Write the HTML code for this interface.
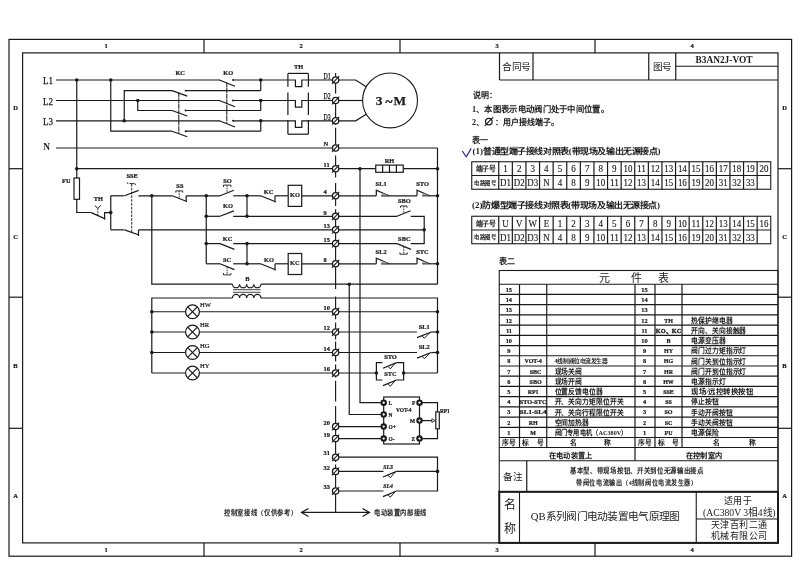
<!DOCTYPE html>
<html lang="zh-CN"><head><meta charset="utf-8"><title>B3AN2J-VOT</title>
<style>
html,body{margin:0;padding:0;background:#fff;}
body{width:800px;height:566px;overflow:hidden;font-family:"Liberation Serif",serif;}
svg{display:block;font-family:"Liberation Serif",serif;}
svg text{fill:#1a1a1a;}
</style></head><body>
<svg width="800" height="566" viewBox="0 0 800 566" style="will-change:transform">
<rect x="0" y="0" width="800" height="566" fill="#fff"/>
<rect x="9" y="39.4" width="782.6" height="516.8000000000001" fill="none" stroke="#1a1a1a" stroke-width="1.2"/>
<rect x="22.6" y="52.9" width="755.4" height="490.0" fill="none" stroke="#1a1a1a" stroke-width="1.2"/>
<line x1="204" y1="39.4" x2="204" y2="52.9" stroke="#1a1a1a" stroke-width="1.2"/>
<line x1="204" y1="542.9" x2="204" y2="556.2" stroke="#1a1a1a" stroke-width="1.2"/>
<line x1="400" y1="39.4" x2="400" y2="52.9" stroke="#1a1a1a" stroke-width="1.2"/>
<line x1="400" y1="542.9" x2="400" y2="556.2" stroke="#1a1a1a" stroke-width="1.2"/>
<line x1="595" y1="39.4" x2="595" y2="52.9" stroke="#1a1a1a" stroke-width="1.2"/>
<line x1="595" y1="542.9" x2="595" y2="556.2" stroke="#1a1a1a" stroke-width="1.2"/>
<line x1="9" y1="168.7" x2="22.6" y2="168.7" stroke="#1a1a1a" stroke-width="1.2"/>
<line x1="778" y1="168.7" x2="791.6" y2="168.7" stroke="#1a1a1a" stroke-width="1.2"/>
<line x1="9" y1="297.2" x2="22.6" y2="297.2" stroke="#1a1a1a" stroke-width="1.2"/>
<line x1="778" y1="297.2" x2="791.6" y2="297.2" stroke="#1a1a1a" stroke-width="1.2"/>
<line x1="9" y1="428.3" x2="22.6" y2="428.3" stroke="#1a1a1a" stroke-width="1.2"/>
<line x1="778" y1="428.3" x2="791.6" y2="428.3" stroke="#1a1a1a" stroke-width="1.2"/>
<text x="106" y="48.3" font-size="6.5" font-weight="bold" text-anchor="middle" stroke="#1a1a1a" stroke-width="0.22">1</text>
<text x="106" y="551.8" font-size="6.5" font-weight="bold" text-anchor="middle" stroke="#1a1a1a" stroke-width="0.22">1</text>
<text x="301" y="48.3" font-size="6.5" font-weight="bold" text-anchor="middle" stroke="#1a1a1a" stroke-width="0.22">2</text>
<text x="301" y="551.8" font-size="6.5" font-weight="bold" text-anchor="middle" stroke="#1a1a1a" stroke-width="0.22">2</text>
<text x="497" y="48.3" font-size="6.5" font-weight="bold" text-anchor="middle" stroke="#1a1a1a" stroke-width="0.22">3</text>
<text x="497" y="551.8" font-size="6.5" font-weight="bold" text-anchor="middle" stroke="#1a1a1a" stroke-width="0.22">3</text>
<text x="692" y="48.3" font-size="6.5" font-weight="bold" text-anchor="middle" stroke="#1a1a1a" stroke-width="0.22">4</text>
<text x="692" y="551.8" font-size="6.5" font-weight="bold" text-anchor="middle" stroke="#1a1a1a" stroke-width="0.22">4</text>
<text x="15.5" y="109.7" font-size="6.5" font-weight="bold" text-anchor="middle" stroke="#1a1a1a" stroke-width="0.22">D</text>
<text x="784.5" y="109.7" font-size="6.5" font-weight="bold" text-anchor="middle" stroke="#1a1a1a" stroke-width="0.22">D</text>
<text x="15.5" y="239" font-size="6.5" font-weight="bold" text-anchor="middle" stroke="#1a1a1a" stroke-width="0.22">C</text>
<text x="784.5" y="239" font-size="6.5" font-weight="bold" text-anchor="middle" stroke="#1a1a1a" stroke-width="0.22">C</text>
<text x="15.5" y="368.3" font-size="6.5" font-weight="bold" text-anchor="middle" stroke="#1a1a1a" stroke-width="0.22">B</text>
<text x="784.5" y="368.3" font-size="6.5" font-weight="bold" text-anchor="middle" stroke="#1a1a1a" stroke-width="0.22">B</text>
<text x="15.5" y="498" font-size="6.5" font-weight="bold" text-anchor="middle" stroke="#1a1a1a" stroke-width="0.22">A</text>
<text x="784.5" y="498" font-size="6.5" font-weight="bold" text-anchor="middle" stroke="#1a1a1a" stroke-width="0.22">A</text>
<line x1="335.6" y1="73" x2="335.6" y2="93.6" stroke="#1a1a1a" stroke-width="1.15"/>
<line x1="335.6" y1="97.2" x2="335.6" y2="124.7" stroke="#1a1a1a" stroke-width="1.15"/>
<line x1="335.6" y1="127.8" x2="335.6" y2="151.2" stroke="#1a1a1a" stroke-width="1.15"/>
<line x1="335.6" y1="155.4" x2="335.6" y2="177.4" stroke="#1a1a1a" stroke-width="1.15"/>
<line x1="335.6" y1="183.1" x2="335.6" y2="206" stroke="#1a1a1a" stroke-width="1.15"/>
<line x1="335.6" y1="209.2" x2="335.6" y2="288.9" stroke="#1a1a1a" stroke-width="1.15"/>
<line x1="335.6" y1="296.5" x2="335.6" y2="319.2" stroke="#1a1a1a" stroke-width="1.15"/>
<line x1="335.6" y1="322.4" x2="335.6" y2="339.4" stroke="#1a1a1a" stroke-width="1.15"/>
<line x1="335.6" y1="341.5" x2="335.6" y2="361.6" stroke="#1a1a1a" stroke-width="1.15"/>
<line x1="335.6" y1="364.5" x2="335.6" y2="377.5" stroke="#1a1a1a" stroke-width="1.15"/>
<line x1="335.6" y1="380.7" x2="335.6" y2="401.4" stroke="#1a1a1a" stroke-width="1.15"/>
<line x1="335.6" y1="406" x2="335.6" y2="462" stroke="#1a1a1a" stroke-width="1.15"/>
<line x1="335.6" y1="464.5" x2="335.6" y2="512.4" stroke="#1a1a1a" stroke-width="1.15"/>
<text x="43" y="84.2" font-size="10.4" font-weight="normal" text-anchor="start" textLength="10" lengthAdjust="spacingAndGlyphs" stroke="#1a1a1a" stroke-width="0.25">L1</text>
<text x="43" y="104.7" font-size="10.4" font-weight="normal" text-anchor="start" textLength="10" lengthAdjust="spacingAndGlyphs" stroke="#1a1a1a" stroke-width="0.25">L2</text>
<text x="43" y="125.0" font-size="10.4" font-weight="normal" text-anchor="start" textLength="10" lengthAdjust="spacingAndGlyphs" stroke="#1a1a1a" stroke-width="0.25">L3</text>
<text x="43.2" y="150.0" font-size="9.4" font-weight="bold" text-anchor="start">N</text>
<line x1="56" y1="80" x2="220" y2="80" stroke="#1a1a1a" stroke-width="1.2"/>
<line x1="219.4" y1="80" x2="235" y2="86.2" stroke="#1a1a1a" stroke-width="1.2"/>
<circle cx="233" cy="80" r="0.95" fill="#1a1a1a"/>
<line x1="233" y1="80" x2="287.9" y2="80" stroke="#1a1a1a" stroke-width="1.2"/>
<circle cx="260.75" cy="80" r="1.8" fill="#1a1a1a"/>
<line x1="56" y1="100.5" x2="220" y2="100.5" stroke="#1a1a1a" stroke-width="1.2"/>
<line x1="219.4" y1="100.5" x2="235" y2="106.7" stroke="#1a1a1a" stroke-width="1.2"/>
<circle cx="233" cy="100.5" r="0.95" fill="#1a1a1a"/>
<line x1="233" y1="100.5" x2="287.9" y2="100.5" stroke="#1a1a1a" stroke-width="1.2"/>
<circle cx="260.75" cy="100.5" r="1.8" fill="#1a1a1a"/>
<line x1="56" y1="120.8" x2="220" y2="120.8" stroke="#1a1a1a" stroke-width="1.2"/>
<line x1="219.4" y1="120.8" x2="235" y2="127.0" stroke="#1a1a1a" stroke-width="1.2"/>
<circle cx="233" cy="120.8" r="0.95" fill="#1a1a1a"/>
<line x1="233" y1="120.8" x2="287.9" y2="120.8" stroke="#1a1a1a" stroke-width="1.2"/>
<circle cx="260.75" cy="120.8" r="1.8" fill="#1a1a1a"/>
<line x1="226.8" y1="82.5" x2="226.8" y2="123" stroke="#1a1a1a" stroke-width="1.05" stroke-dasharray="5 0.6"/>
<line x1="56" y1="148" x2="437.5" y2="148" stroke="#1a1a1a" stroke-width="1.2"/>
<line x1="76.75" y1="168.7" x2="375.75" y2="168.7" stroke="#1a1a1a" stroke-width="1.2"/>
<line x1="403.25" y1="168.7" x2="437.5" y2="168.7" stroke="#1a1a1a" stroke-width="1.2"/>
<line x1="76.75" y1="80" x2="76.75" y2="168.7" stroke="#1a1a1a" stroke-width="1.2"/>
<circle cx="76.75" cy="80" r="1.8" fill="#1a1a1a"/>
<circle cx="76.75" cy="168.7" r="1.8" fill="#1a1a1a"/>
<circle cx="110.75" cy="80" r="1.8" fill="#1a1a1a"/>
<circle cx="124.25" cy="120.8" r="1.8" fill="#1a1a1a"/>
<circle cx="137.75" cy="100.5" r="1.8" fill="#1a1a1a"/>
<polyline points="110.75,80 110.75,131.2 172,131.2" fill="none" stroke="#1a1a1a" stroke-width="1.2" stroke-linejoin="miter"/>
<line x1="172" y1="131.2" x2="187.3" y2="136.7" stroke="#1a1a1a" stroke-width="1.2"/>
<circle cx="185.6" cy="131.2" r="0.95" fill="#1a1a1a"/>
<line x1="185.6" y1="131.2" x2="260.75" y2="131.2" stroke="#1a1a1a" stroke-width="1.2"/>
<polyline points="124.25,120.8 124.25,90.6 172,90.6" fill="none" stroke="#1a1a1a" stroke-width="1.2" stroke-linejoin="miter"/>
<line x1="172" y1="90.6" x2="187.3" y2="96.1" stroke="#1a1a1a" stroke-width="1.2"/>
<circle cx="185.6" cy="90.6" r="0.95" fill="#1a1a1a"/>
<line x1="185.6" y1="90.6" x2="260.75" y2="90.6" stroke="#1a1a1a" stroke-width="1.2"/>
<polyline points="137.75,100.5 137.75,110.5 172,110.5" fill="none" stroke="#1a1a1a" stroke-width="1.2" stroke-linejoin="miter"/>
<line x1="172" y1="110.5" x2="187.3" y2="116.0" stroke="#1a1a1a" stroke-width="1.2"/>
<circle cx="185.6" cy="110.5" r="0.95" fill="#1a1a1a"/>
<line x1="185.6" y1="110.5" x2="260.75" y2="110.5" stroke="#1a1a1a" stroke-width="1.2"/>
<line x1="260.75" y1="90.6" x2="260.75" y2="80" stroke="#1a1a1a" stroke-width="1.2"/>
<line x1="260.75" y1="110.5" x2="260.75" y2="100.5" stroke="#1a1a1a" stroke-width="1.2"/>
<line x1="260.75" y1="131.2" x2="260.75" y2="120.8" stroke="#1a1a1a" stroke-width="1.2"/>
<line x1="178.8" y1="92.6" x2="178.8" y2="133" stroke="#1a1a1a" stroke-width="1.05" stroke-dasharray="5 0.6"/>
<text x="180.2" y="75.2" font-size="6.4" font-weight="bold" text-anchor="middle" stroke="#1a1a1a" stroke-width="0.22">KC</text>
<text x="228.2" y="75.2" font-size="6.4" font-weight="bold" text-anchor="middle" stroke="#1a1a1a" stroke-width="0.22">KO</text>
<text x="298.5" y="69" font-size="6.4" font-weight="bold" text-anchor="middle" stroke="#1a1a1a" stroke-width="0.22">TH</text>
<line x1="287.9" y1="73.4" x2="308.4" y2="73.4" stroke="#1a1a1a" stroke-width="1.2"/>
<line x1="287.9" y1="134.2" x2="308.4" y2="134.2" stroke="#1a1a1a" stroke-width="1.2"/>
<line x1="287.9" y1="73.4" x2="287.9" y2="86.8" stroke="#1a1a1a" stroke-width="1.2"/>
<line x1="287.9" y1="92.5" x2="287.9" y2="115" stroke="#1a1a1a" stroke-width="1.2"/>
<line x1="287.9" y1="120" x2="287.9" y2="134.2" stroke="#1a1a1a" stroke-width="1.2"/>
<line x1="308.4" y1="73.4" x2="308.4" y2="86.8" stroke="#1a1a1a" stroke-width="1.2"/>
<line x1="308.4" y1="92.5" x2="308.4" y2="115" stroke="#1a1a1a" stroke-width="1.2"/>
<line x1="308.4" y1="120" x2="308.4" y2="134.2" stroke="#1a1a1a" stroke-width="1.2"/>
<polyline points="287.9,80 295.4,80 295.4,86.6 301.8,86.6 301.8,80 335.6,80" fill="none" stroke="#1a1a1a" stroke-width="1.2" stroke-linejoin="miter"/>
<polyline points="287.9,100.5 295.4,100.5 295.4,107.1 301.8,107.1 301.8,100.5 335.6,100.5" fill="none" stroke="#1a1a1a" stroke-width="1.2" stroke-linejoin="miter"/>
<polyline points="287.9,120.8 295.4,120.8 295.4,127.39999999999999 301.8,127.39999999999999 301.8,120.8 335.6,120.8" fill="none" stroke="#1a1a1a" stroke-width="1.2" stroke-linejoin="miter"/>
<polyline points="335.6,80 355.7,80 367,87.2" fill="none" stroke="#1a1a1a" stroke-width="1.2" stroke-linejoin="miter"/>
<line x1="335.6" y1="100.5" x2="362.6" y2="100.5" stroke="#1a1a1a" stroke-width="1.2"/>
<polyline points="335.6,120.8 355.7,120.8 367,113.8" fill="none" stroke="#1a1a1a" stroke-width="1.2" stroke-linejoin="miter"/>
<circle cx="390.05" cy="100.4" r="27.45" fill="#fff" stroke="#1a1a1a" stroke-width="1.1"/>
<text y="104.9" font-size="13.3" font-weight="bold" stroke="#1a1a1a" stroke-width="0.25"><tspan x="375.7">3</tspan><tspan x="385.4" dy="1.3" stroke="#1a1a1a" stroke-width="0.3">~</tspan><tspan x="393.4" dy="-1.3">M</tspan></text>
<rect x="375.75" y="165.1" width="27.5" height="7.2" fill="#fff" stroke="#1a1a1a" stroke-width="1.2"/>
<line x1="382.625" y1="165.1" x2="382.625" y2="172.3" stroke="#1a1a1a" stroke-width="1.2"/>
<line x1="389.5" y1="165.1" x2="389.5" y2="172.3" stroke="#1a1a1a" stroke-width="1.2"/>
<line x1="396.375" y1="165.1" x2="396.375" y2="172.3" stroke="#1a1a1a" stroke-width="1.2"/>
<text x="389.5" y="162.6" font-size="6.4" font-weight="bold" text-anchor="middle" stroke="#1a1a1a" stroke-width="0.22">RH</text>
<line x1="437.5" y1="148" x2="437.5" y2="284.2" stroke="#1a1a1a" stroke-width="1.2"/>
<circle cx="437.5" cy="168.7" r="1.8" fill="#1a1a1a"/>
<circle cx="437.5" cy="195.8" r="1.8" fill="#1a1a1a"/>
<circle cx="437.5" cy="263.8" r="1.8" fill="#1a1a1a"/>
<circle cx="360" cy="168.7" r="1.8" fill="#1a1a1a"/>
<polyline points="360,168.7 360,402.7 383.75,402.7" fill="none" stroke="#1a1a1a" stroke-width="1.2" stroke-linejoin="miter"/>
<line x1="76.75" y1="168.7" x2="76.75" y2="178" stroke="#1a1a1a" stroke-width="1.2"/>
<rect x="74" y="178" width="5.5" height="21.3" fill="#fff" stroke="#1a1a1a" stroke-width="1.2"/>
<polyline points="76.75,199.3 76.75,212.5 90.5,212.5" fill="none" stroke="#1a1a1a" stroke-width="1.2" stroke-linejoin="miter"/>
<text x="62" y="183" font-size="6.4" font-weight="bold" text-anchor="start" stroke="#1a1a1a" stroke-width="0.22">FU</text>
<line x1="91.2" y1="212.6" x2="105.2" y2="218.9" stroke="#1a1a1a" stroke-width="1.2"/>
<polyline points="104.6,219.6 104.6,212.6 110.75,212.6" fill="none" stroke="#1a1a1a" stroke-width="1.2" stroke-linejoin="miter"/>
<line x1="90.5" y1="212.5" x2="91.4" y2="212.5" stroke="#1a1a1a" stroke-width="1.2"/>
<circle cx="110.75" cy="212.6" r="1.8" fill="#1a1a1a"/>
<text x="98.3" y="201.3" font-size="6.4" font-weight="bold" text-anchor="middle" stroke="#1a1a1a" stroke-width="0.22">TH</text>
<polyline points="94.9,205.3 97.8,208.5 100.7,205.3" fill="none" stroke="#1a1a1a" stroke-width="1.0" stroke-linejoin="miter"/>
<line x1="97.8" y1="208.5" x2="97.8" y2="215" stroke="#1a1a1a" stroke-width="0.9" stroke-dasharray="1.6 0.9"/>
<line x1="110.75" y1="195.8" x2="110.75" y2="229.85" stroke="#1a1a1a" stroke-width="1.2"/>
<line x1="110.75" y1="195.8" x2="124.25" y2="195.8" stroke="#1a1a1a" stroke-width="1.2"/>
<line x1="124.6" y1="195.8" x2="138.6" y2="190.4" stroke="#1a1a1a" stroke-width="1.2"/>
<line x1="138.4" y1="195.8" x2="172.3" y2="195.8" stroke="#1a1a1a" stroke-width="1.2"/>
<line x1="110.75" y1="229.85" x2="124.25" y2="229.85" stroke="#1a1a1a" stroke-width="1.2"/>
<line x1="124.6" y1="229.85" x2="138.9" y2="235" stroke="#1a1a1a" stroke-width="1.2"/>
<line x1="138.5" y1="229.85" x2="138.5" y2="236" stroke="#1a1a1a" stroke-width="1.2"/>
<line x1="138.5" y1="229.85" x2="335.6" y2="229.85" stroke="#1a1a1a" stroke-width="1.2"/>
<line x1="131.7" y1="184" x2="131.7" y2="233" stroke="#1a1a1a" stroke-width="0.95" stroke-dasharray="2.6 1.2"/>
<text x="132.2" y="177.8" font-size="6.4" font-weight="bold" text-anchor="middle" stroke="#1a1a1a" stroke-width="0.22">SSE</text>
<path d="M127.7,182.3 v1.6 M129.3,183.6 h5.2 M135.3,183.6 v1.6" fill="none" stroke="#1a1a1a" stroke-width="0.9"/>
<circle cx="151.8" cy="195.8" r="1.8" fill="#1a1a1a"/>
<polyline points="151.8,195.8 151.8,284.2 232.5,284.2" fill="none" stroke="#1a1a1a" stroke-width="1.2" stroke-linejoin="miter"/>
<line x1="172.3" y1="195.8" x2="186.8" y2="201.5" stroke="#1a1a1a" stroke-width="1.2"/>
<line x1="186.2" y1="195.8" x2="186.2" y2="201.8" stroke="#1a1a1a" stroke-width="1.2"/>
<line x1="186.2" y1="195.8" x2="220" y2="195.8" stroke="#1a1a1a" stroke-width="1.2"/>
<text x="179.9" y="187.6" font-size="6.4" font-weight="bold" text-anchor="middle" stroke="#1a1a1a" stroke-width="0.22">SS</text>
<path d="M175.8,192.7 v-1.8 h6.9 v1.8" fill="none" stroke="#1a1a1a" stroke-width="0.9"/>
<line x1="179.2" y1="190.9" x2="179.2" y2="198.4" stroke="#1a1a1a" stroke-width="0.9" stroke-dasharray="1.6 0.9"/>
<circle cx="206.25" cy="195.8" r="1.8" fill="#1a1a1a"/>
<circle cx="206.25" cy="216.3" r="1.8" fill="#1a1a1a"/>
<circle cx="206.25" cy="243.6" r="1.8" fill="#1a1a1a"/>
<line x1="206.25" y1="195.8" x2="206.25" y2="263.8" stroke="#1a1a1a" stroke-width="1.2"/>
<line x1="220" y1="195.8" x2="233.9" y2="190.3" stroke="#1a1a1a" stroke-width="1.2"/>
<line x1="233.2" y1="195.8" x2="247" y2="195.8" stroke="#1a1a1a" stroke-width="1.2"/>
<text x="227.5" y="183.2" font-size="6.4" font-weight="bold" text-anchor="middle" stroke="#1a1a1a" stroke-width="0.22">SO</text>
<path d="M223.5,187 v-1.9 h7.4 v1.9" fill="none" stroke="#1a1a1a" stroke-width="0.9"/>
<line x1="227.1" y1="185.2" x2="227.1" y2="192.6" stroke="#1a1a1a" stroke-width="0.9" stroke-dasharray="1.6 0.9"/>
<line x1="206.25" y1="216.3" x2="220" y2="216.3" stroke="#1a1a1a" stroke-width="1.2"/>
<line x1="220" y1="216.3" x2="233.9" y2="210.9" stroke="#1a1a1a" stroke-width="1.2"/>
<line x1="233.2" y1="216.3" x2="335.6" y2="216.3" stroke="#1a1a1a" stroke-width="1.2"/>
<text x="227.9" y="207.6" font-size="6.4" font-weight="bold" text-anchor="middle" stroke="#1a1a1a" stroke-width="0.22">KO</text>
<line x1="247" y1="195.8" x2="247" y2="216.3" stroke="#1a1a1a" stroke-width="1.2"/>
<circle cx="247" cy="195.8" r="1.8" fill="#1a1a1a"/>
<circle cx="247" cy="216.3" r="1.8" fill="#1a1a1a"/>
<line x1="247" y1="195.8" x2="260.75" y2="195.8" stroke="#1a1a1a" stroke-width="1.2"/>
<line x1="260.5" y1="195.8" x2="275.5" y2="201.8" stroke="#1a1a1a" stroke-width="1.2"/>
<line x1="275" y1="195.8" x2="275" y2="202.6" stroke="#1a1a1a" stroke-width="1.2"/>
<line x1="275" y1="195.8" x2="288.2" y2="195.8" stroke="#1a1a1a" stroke-width="1.2"/>
<text x="268.5" y="194.3" font-size="6.4" font-weight="bold" text-anchor="middle" stroke="#1a1a1a" stroke-width="0.22">KC</text>
<rect x="288.2" y="185.3" width="13.5" height="21.1" fill="#fff" stroke="#1a1a1a" stroke-width="1.2"/>
<text x="294.9" y="197.4" font-size="6.4" font-weight="bold" text-anchor="middle" stroke="#1a1a1a" stroke-width="0.22">KO</text>
<line x1="301.7" y1="195.8" x2="335.6" y2="195.8" stroke="#1a1a1a" stroke-width="1.2"/>
<line x1="206.25" y1="243.6" x2="220" y2="243.6" stroke="#1a1a1a" stroke-width="1.2"/>
<line x1="220" y1="243.6" x2="234.4" y2="249.4" stroke="#1a1a1a" stroke-width="1.2"/>
<line x1="233.2" y1="243.6" x2="335.6" y2="243.6" stroke="#1a1a1a" stroke-width="1.2"/>
<text x="227.5" y="241" font-size="6.4" font-weight="bold" text-anchor="middle" stroke="#1a1a1a" stroke-width="0.22">KC</text>
<line x1="206.25" y1="263.8" x2="220" y2="263.8" stroke="#1a1a1a" stroke-width="1.2"/>
<line x1="220" y1="263.8" x2="234.4" y2="269.6" stroke="#1a1a1a" stroke-width="1.2"/>
<line x1="233.2" y1="263.8" x2="260.75" y2="263.8" stroke="#1a1a1a" stroke-width="1.2"/>
<text x="227" y="261.8" font-size="6.4" font-weight="bold" text-anchor="middle" stroke="#1a1a1a" stroke-width="0.22">SC</text>
<path d="M223.5,273 v1.9 h7.4 v-1.9" fill="none" stroke="#1a1a1a" stroke-width="0.9"/>
<line x1="227.1" y1="267.2" x2="227.1" y2="274.8" stroke="#1a1a1a" stroke-width="0.9" stroke-dasharray="1.6 0.9"/>
<line x1="247" y1="243.6" x2="247" y2="263.8" stroke="#1a1a1a" stroke-width="1.2"/>
<circle cx="247" cy="243.6" r="1.8" fill="#1a1a1a"/>
<circle cx="247" cy="263.8" r="1.8" fill="#1a1a1a"/>
<line x1="260.5" y1="263.8" x2="275.5" y2="269.8" stroke="#1a1a1a" stroke-width="1.2"/>
<line x1="275" y1="263.8" x2="275" y2="270.6" stroke="#1a1a1a" stroke-width="1.2"/>
<line x1="275" y1="263.8" x2="288.2" y2="263.8" stroke="#1a1a1a" stroke-width="1.2"/>
<text x="269" y="262.3" font-size="6.4" font-weight="bold" text-anchor="middle" stroke="#1a1a1a" stroke-width="0.22">KO</text>
<rect x="288.2" y="253.5" width="13.5" height="21" fill="#fff" stroke="#1a1a1a" stroke-width="1.2"/>
<text x="294.9" y="265" font-size="6.4" font-weight="bold" text-anchor="middle" stroke="#1a1a1a" stroke-width="0.22">KC</text>
<line x1="301.7" y1="263.8" x2="335.6" y2="263.8" stroke="#1a1a1a" stroke-width="1.2"/>
<line x1="335.6" y1="195.8" x2="376.3" y2="195.8" stroke="#1a1a1a" stroke-width="1.2"/>
<line x1="381.1" y1="195.8" x2="417" y2="195.8" stroke="#1a1a1a" stroke-width="1.2"/>
<line x1="422.2" y1="195.8" x2="437.5" y2="195.8" stroke="#1a1a1a" stroke-width="1.2"/>
<polyline points="376.3,195.8 376.3,190.20000000000002 389.0,195.8" fill="none" stroke="#1a1a1a" stroke-width="1.2" stroke-linejoin="miter"/>
<polygon points="381.5,195.20000000000002 383.1,193.3 387.5,195.20000000000002" fill="#aaa" stroke="#777" stroke-width="0.5" stroke-linejoin="miter"/>
<polyline points="417,195.8 417,190.20000000000002 429.7,195.8" fill="none" stroke="#1a1a1a" stroke-width="1.2" stroke-linejoin="miter"/>
<polygon points="422.2,195.20000000000002 423.8,193.3 428.2,195.20000000000002" fill="#aaa" stroke="#777" stroke-width="0.5" stroke-linejoin="miter"/>
<text x="375.6" y="185.8" font-size="6.4" font-weight="bold" text-anchor="start" stroke="#1a1a1a" stroke-width="0.22">SL1</text>
<text x="416.2" y="185.8" font-size="6.4" font-weight="bold" text-anchor="start" stroke="#1a1a1a" stroke-width="0.22">STO</text>
<line x1="335.6" y1="263.8" x2="376.3" y2="263.8" stroke="#1a1a1a" stroke-width="1.2"/>
<line x1="381.1" y1="263.8" x2="417" y2="263.8" stroke="#1a1a1a" stroke-width="1.2"/>
<line x1="422.2" y1="263.8" x2="437.5" y2="263.8" stroke="#1a1a1a" stroke-width="1.2"/>
<polyline points="376.3,263.8 376.3,258.2 389.0,263.8" fill="none" stroke="#1a1a1a" stroke-width="1.2" stroke-linejoin="miter"/>
<polygon points="381.5,263.2 383.1,261.3 387.5,263.2" fill="#aaa" stroke="#777" stroke-width="0.5" stroke-linejoin="miter"/>
<polyline points="417,263.8 417,258.2 429.7,263.8" fill="none" stroke="#1a1a1a" stroke-width="1.2" stroke-linejoin="miter"/>
<polygon points="422.2,263.2 423.8,261.3 428.2,263.2" fill="#aaa" stroke="#777" stroke-width="0.5" stroke-linejoin="miter"/>
<text x="375.6" y="253.8" font-size="6.4" font-weight="bold" text-anchor="start" stroke="#1a1a1a" stroke-width="0.22">SL2</text>
<text x="416.2" y="253.8" font-size="6.4" font-weight="bold" text-anchor="start" stroke="#1a1a1a" stroke-width="0.22">STC</text>
<line x1="335.6" y1="216.3" x2="397" y2="216.3" stroke="#1a1a1a" stroke-width="1.2"/>
<line x1="397" y1="216.3" x2="410.6" y2="210.7" stroke="#1a1a1a" stroke-width="1.2"/>
<polyline points="410.8,216.3 424.2,216.3 424.2,243.6 410.8,243.6" fill="none" stroke="#1a1a1a" stroke-width="1.2" stroke-linejoin="miter"/>
<circle cx="424.2" cy="229.85" r="1.8" fill="#1a1a1a"/>
<line x1="335.6" y1="229.85" x2="424.2" y2="229.85" stroke="#1a1a1a" stroke-width="1.2"/>
<text x="404.3" y="202.8" font-size="6.4" font-weight="bold" text-anchor="middle" stroke="#1a1a1a" stroke-width="0.22">SBO</text>
<path d="M400.5,207.7 v-1.7 h6.5 v1.7" fill="none" stroke="#1a1a1a" stroke-width="0.9"/>
<line x1="403.8" y1="206" x2="403.8" y2="213.2" stroke="#1a1a1a" stroke-width="0.9" stroke-dasharray="1.6 0.9"/>
<line x1="335.6" y1="243.6" x2="397" y2="243.6" stroke="#1a1a1a" stroke-width="1.2"/>
<line x1="397" y1="243.6" x2="411" y2="249.4" stroke="#1a1a1a" stroke-width="1.2"/>
<text x="404.3" y="240.7" font-size="6.4" font-weight="bold" text-anchor="middle" stroke="#1a1a1a" stroke-width="0.22">SBC</text>
<path d="M399.9,252.4 v1.8 h7.3 v-1.8" fill="none" stroke="#1a1a1a" stroke-width="0.9"/>
<line x1="403.8" y1="246.8" x2="403.8" y2="254" stroke="#1a1a1a" stroke-width="0.9" stroke-dasharray="1.6 0.9"/>
<path d="M232.5,284.2 a3.55,3.55 0 0 0 7.1,0 a3.55,3.55 0 0 0 7.1,0 a3.55,3.55 0 0 0 7.1,0 a3.55,3.55 0 0 0 7.1,0" fill="none" stroke="#1a1a1a" stroke-width="1.2"/>
<path d="M232.5,298 a3.55,3.55 0 0 1 7.1,0 a3.55,3.55 0 0 1 7.1,0 a3.55,3.55 0 0 1 7.1,0 a3.55,3.55 0 0 1 7.1,0" fill="none" stroke="#1a1a1a" stroke-width="1.2"/>
<line x1="233" y1="289.7" x2="260.6" y2="289.7" stroke="#444" stroke-width="1"/>
<line x1="233" y1="292.3" x2="260.6" y2="292.3" stroke="#444" stroke-width="1"/>
<text x="247.4" y="281.2" font-size="6.5" font-weight="bold" text-anchor="middle" stroke="#1a1a1a" stroke-width="0.22">B</text>
<line x1="260.9" y1="284.2" x2="437.5" y2="284.2" stroke="#1a1a1a" stroke-width="1.2"/>
<circle cx="349.25" cy="284.2" r="1.8" fill="#1a1a1a"/>
<polyline points="349.25,284.2 349.25,414.5 383.75,414.5" fill="none" stroke="#1a1a1a" stroke-width="1.2" stroke-linejoin="miter"/>
<polyline points="232.5,298 151.8,298 151.8,373" fill="none" stroke="#1a1a1a" stroke-width="1.2" stroke-linejoin="miter"/>
<polyline points="260.9,298 437.5,298 437.5,373" fill="none" stroke="#1a1a1a" stroke-width="1.2" stroke-linejoin="miter"/>
<circle cx="192.5" cy="311.75" r="6.9" fill="#fff" stroke="#1a1a1a" stroke-width="1.2"/>
<line x1="187.62" y1="306.87" x2="197.38" y2="316.63" stroke="#1a1a1a" stroke-width="1.2"/>
<line x1="187.62" y1="316.63" x2="197.38" y2="306.87" stroke="#1a1a1a" stroke-width="1.2"/>
<text x="200" y="306.85" font-size="6.6" font-weight="normal" text-anchor="start" stroke="#1a1a1a" stroke-width="0.22">HW</text>
<circle cx="192.5" cy="332" r="6.9" fill="#fff" stroke="#1a1a1a" stroke-width="1.2"/>
<line x1="187.62" y1="327.12" x2="197.38" y2="336.88" stroke="#1a1a1a" stroke-width="1.2"/>
<line x1="187.62" y1="336.88" x2="197.38" y2="327.12" stroke="#1a1a1a" stroke-width="1.2"/>
<text x="200" y="327.1" font-size="6.6" font-weight="normal" text-anchor="start" stroke="#1a1a1a" stroke-width="0.22">HR</text>
<circle cx="192.5" cy="352.5" r="6.9" fill="#fff" stroke="#1a1a1a" stroke-width="1.2"/>
<line x1="187.62" y1="347.62" x2="197.38" y2="357.38" stroke="#1a1a1a" stroke-width="1.2"/>
<line x1="187.62" y1="357.38" x2="197.38" y2="347.62" stroke="#1a1a1a" stroke-width="1.2"/>
<text x="200" y="347.6" font-size="6.6" font-weight="normal" text-anchor="start" stroke="#1a1a1a" stroke-width="0.22">HG</text>
<circle cx="192.5" cy="373" r="6.9" fill="#fff" stroke="#1a1a1a" stroke-width="1.2"/>
<line x1="187.62" y1="368.12" x2="197.38" y2="377.88" stroke="#1a1a1a" stroke-width="1.2"/>
<line x1="187.62" y1="377.88" x2="197.38" y2="368.12" stroke="#1a1a1a" stroke-width="1.2"/>
<text x="200" y="368.1" font-size="6.6" font-weight="normal" text-anchor="start" stroke="#1a1a1a" stroke-width="0.22">HY</text>
<line x1="151.8" y1="311.75" x2="185" y2="311.75" stroke="#1a1a1a" stroke-width="1.2"/>
<line x1="199" y1="311.75" x2="437.5" y2="311.75" stroke="#1a1a1a" stroke-width="1.2"/>
<circle cx="151.8" cy="311.75" r="1.8" fill="#1a1a1a"/>
<circle cx="151.8" cy="332" r="1.8" fill="#1a1a1a"/>
<circle cx="151.8" cy="352.5" r="1.8" fill="#1a1a1a"/>
<circle cx="437.5" cy="311.75" r="1.8" fill="#1a1a1a"/>
<circle cx="437.5" cy="332" r="1.8" fill="#1a1a1a"/>
<circle cx="437.5" cy="352.5" r="1.8" fill="#1a1a1a"/>
<line x1="151.8" y1="332" x2="185" y2="332" stroke="#1a1a1a" stroke-width="1.2"/>
<line x1="199" y1="332" x2="417" y2="332" stroke="#1a1a1a" stroke-width="1.2"/>
<line x1="417" y1="337.6" x2="431.2" y2="332" stroke="#1a1a1a" stroke-width="1.2"/>
<polyline points="422,335.7 424.3,338.3 429.8,332.7" fill="none" stroke="#1a1a1a" stroke-width="1.0" stroke-linejoin="miter"/>
<line x1="431.2" y1="332" x2="437.5" y2="332" stroke="#1a1a1a" stroke-width="1.2"/>
<text x="424.3" y="328.5" font-size="6.4" font-weight="bold" text-anchor="middle" stroke="#1a1a1a" stroke-width="0.22">SL1</text>
<line x1="151.8" y1="352.5" x2="185" y2="352.5" stroke="#1a1a1a" stroke-width="1.2"/>
<line x1="199" y1="352.5" x2="417" y2="352.5" stroke="#1a1a1a" stroke-width="1.2"/>
<line x1="417" y1="358.1" x2="431.2" y2="352.5" stroke="#1a1a1a" stroke-width="1.2"/>
<polyline points="422,356.2 424.3,358.8 429.8,353.2" fill="none" stroke="#1a1a1a" stroke-width="1.0" stroke-linejoin="miter"/>
<line x1="431.2" y1="352.5" x2="437.5" y2="352.5" stroke="#1a1a1a" stroke-width="1.2"/>
<text x="424.3" y="349.0" font-size="6.4" font-weight="bold" text-anchor="middle" stroke="#1a1a1a" stroke-width="0.22">SL2</text>
<line x1="151.8" y1="373" x2="185" y2="373" stroke="#1a1a1a" stroke-width="1.2"/>
<line x1="199" y1="373" x2="376.4" y2="373" stroke="#1a1a1a" stroke-width="1.2"/>
<circle cx="376.4" cy="373" r="1.8" fill="#1a1a1a"/>
<circle cx="403.6" cy="373" r="1.8" fill="#1a1a1a"/>
<polyline points="382.4,362.6 376.4,362.6 376.4,380 382.4,380" fill="none" stroke="#1a1a1a" stroke-width="1.2" stroke-linejoin="miter"/>
<polyline points="396.5,362.6 403.6,362.6 403.6,380 396.5,380" fill="none" stroke="#1a1a1a" stroke-width="1.2" stroke-linejoin="miter"/>
<line x1="383" y1="368.20000000000005" x2="396.5" y2="362.6" stroke="#1a1a1a" stroke-width="1.2"/>
<polyline points="388,366.3 390.3,368.90000000000003 395.1,363.3" fill="none" stroke="#1a1a1a" stroke-width="1.0" stroke-linejoin="miter"/>
<line x1="383" y1="385.6" x2="396.5" y2="380" stroke="#1a1a1a" stroke-width="1.2"/>
<polyline points="388,383.7 390.3,386.3 395.1,380.7" fill="none" stroke="#1a1a1a" stroke-width="1.0" stroke-linejoin="miter"/>
<text x="390.5" y="358.9" font-size="6.4" font-weight="bold" text-anchor="middle" stroke="#1a1a1a" stroke-width="0.22">STO</text>
<text x="390.5" y="376.3" font-size="6.4" font-weight="bold" text-anchor="middle" stroke="#1a1a1a" stroke-width="0.22">STC</text>
<line x1="403.6" y1="373" x2="437.5" y2="373" stroke="#1a1a1a" stroke-width="1.2"/>
<rect x="383.7" y="397" width="35.8" height="47" fill="none" stroke="#1a1a1a" stroke-width="1.2"/>
<text x="388.6" y="404.7" font-size="5.4" font-weight="bold" text-anchor="start" stroke="#1a1a1a" stroke-width="0.22">L</text>
<text x="388.6" y="416.5" font-size="5.4" font-weight="bold" text-anchor="start" stroke="#1a1a1a" stroke-width="0.22">N</text>
<text x="388.6" y="428.6" font-size="5.4" font-weight="bold" text-anchor="start" stroke="#1a1a1a" stroke-width="0.22">O+</text>
<text x="388.6" y="440.6" font-size="5.4" font-weight="bold" text-anchor="start" stroke="#1a1a1a" stroke-width="0.22">O-</text>
<text x="415.2" y="404.7" font-size="5.4" font-weight="bold" text-anchor="end" stroke="#1a1a1a" stroke-width="0.22">F</text>
<text x="415.2" y="422.6" font-size="5.4" font-weight="bold" text-anchor="end" stroke="#1a1a1a" stroke-width="0.22">M</text>
<text x="415.2" y="440.6" font-size="5.4" font-weight="bold" text-anchor="end" stroke="#1a1a1a" stroke-width="0.22">Z</text>
<text x="403.7" y="412.4" font-size="5.4" font-weight="bold" text-anchor="middle" stroke="#1a1a1a" stroke-width="0.22">VOT-4</text>
<line x1="335.6" y1="426.6" x2="383.75" y2="426.6" stroke="#1a1a1a" stroke-width="1.2"/>
<line x1="335.6" y1="438.6" x2="383.75" y2="438.6" stroke="#1a1a1a" stroke-width="1.2"/>
<polyline points="419.5,402.7 437.5,402.7 437.5,411.9" fill="none" stroke="#1a1a1a" stroke-width="1.2" stroke-linejoin="miter"/>
<polyline points="419.5,438.6 437.5,438.6 437.5,428.8" fill="none" stroke="#1a1a1a" stroke-width="1.2" stroke-linejoin="miter"/>
<rect x="435.8" y="411.9" width="3.5" height="16.9" fill="#fff" stroke="#1a1a1a" stroke-width="1.2"/>
<line x1="419.5" y1="420.6" x2="435" y2="420.6" stroke="#1a1a1a" stroke-width="1.2"/>
<polygon points="431.9,418.7 435.2,420.6 431.9,422.5" fill="#fff" stroke="#1a1a1a" stroke-width="0.8" stroke-linejoin="miter"/>
<text x="439.9" y="412.7" font-size="5.4" font-weight="bold" text-anchor="start" stroke="#1a1a1a" stroke-width="0.22">RP1</text>
<circle cx="383.7" cy="402.7" r="2.2" fill="#fff" stroke="#1a1a1a" stroke-width="2.1"/>
<circle cx="383.7" cy="414.5" r="2.2" fill="#fff" stroke="#1a1a1a" stroke-width="2.1"/>
<circle cx="383.7" cy="426.6" r="2.2" fill="#fff" stroke="#1a1a1a" stroke-width="2.1"/>
<circle cx="383.7" cy="438.6" r="2.2" fill="#fff" stroke="#1a1a1a" stroke-width="2.1"/>
<circle cx="419.5" cy="402.7" r="2.2" fill="#fff" stroke="#1a1a1a" stroke-width="2.1"/>
<circle cx="419.5" cy="420.6" r="2.2" fill="#fff" stroke="#1a1a1a" stroke-width="2.1"/>
<circle cx="419.5" cy="438.6" r="2.2" fill="#fff" stroke="#1a1a1a" stroke-width="2.1"/>
<polyline points="335.6,457.2 437.5,457.2 437.5,491 396.5,491" fill="none" stroke="#1a1a1a" stroke-width="1.2" stroke-linejoin="miter"/>
<circle cx="437.5" cy="471.4" r="1.8" fill="#1a1a1a"/>
<line x1="335.6" y1="471.4" x2="383.5" y2="471.4" stroke="#1a1a1a" stroke-width="1.2"/>
<line x1="396.5" y1="471.4" x2="437.5" y2="471.4" stroke="#1a1a1a" stroke-width="1.2"/>
<line x1="335.6" y1="491" x2="383.5" y2="491" stroke="#1a1a1a" stroke-width="1.2"/>
<line x1="383" y1="477.0" x2="396.5" y2="471.4" stroke="#1a1a1a" stroke-width="1.2"/>
<polyline points="388,475.09999999999997 390.3,477.7 395.1,472.09999999999997" fill="none" stroke="#1a1a1a" stroke-width="1.0" stroke-linejoin="miter"/>
<line x1="383" y1="496.6" x2="396.5" y2="491" stroke="#1a1a1a" stroke-width="1.2"/>
<polyline points="388,494.7 390.3,497.3 395.1,491.7" fill="none" stroke="#1a1a1a" stroke-width="1.0" stroke-linejoin="miter"/>
<text x="383.2" y="468.59999999999997" font-size="5.8" font-weight="bold" text-anchor="start" font-style="italic" stroke="#1a1a1a" stroke-width="0.22">SL3</text>
<text x="383.2" y="488.2" font-size="5.8" font-weight="bold" text-anchor="start" font-style="italic" stroke="#1a1a1a" stroke-width="0.22">SL4</text>
<line x1="301.5" y1="512.4" x2="369.5" y2="512.4" stroke="#1a1a1a" stroke-width="1.2"/>
<polyline points="308.5,508.4 301.5,512.4 308.5,516.4" fill="none" stroke="#1a1a1a" stroke-width="1.2" stroke-linejoin="miter"/>
<polyline points="362.5,508.4 369.5,512.4 362.5,516.4" fill="none" stroke="#1a1a1a" stroke-width="1.2" stroke-linejoin="miter"/>
<text x="224" y="515.4" font-size="6.6" font-weight="bold" text-anchor="start" textLength="73.5" lengthAdjust="spacingAndGlyphs">控制室接线（仅供参考）</text>
<text x="374" y="515.4" font-size="6.6" font-weight="bold" text-anchor="start" textLength="52.8" lengthAdjust="spacingAndGlyphs">电动装置内部接线</text>
<circle cx="335.6" cy="80" r="3.15" fill="#fff" stroke="#1a1a1a" stroke-width="1.3"/>
<line x1="332.0" y1="83.9" x2="339.20000000000005" y2="76.1" stroke="#1a1a1a" stroke-width="1.1"/>
<text x="323.6" y="78.7" font-size="7.2" font-weight="normal" text-anchor="start" textLength="7.2" lengthAdjust="spacingAndGlyphs" stroke="#1a1a1a" stroke-width="0.25">D1</text>
<circle cx="335.6" cy="100.5" r="3.15" fill="#fff" stroke="#1a1a1a" stroke-width="1.3"/>
<line x1="332.0" y1="104.4" x2="339.20000000000005" y2="96.6" stroke="#1a1a1a" stroke-width="1.1"/>
<text x="323.6" y="99.2" font-size="7.2" font-weight="normal" text-anchor="start" textLength="7.2" lengthAdjust="spacingAndGlyphs" stroke="#1a1a1a" stroke-width="0.25">D2</text>
<circle cx="335.6" cy="120.8" r="3.15" fill="#fff" stroke="#1a1a1a" stroke-width="1.3"/>
<line x1="332.0" y1="124.7" x2="339.20000000000005" y2="116.89999999999999" stroke="#1a1a1a" stroke-width="1.1"/>
<text x="323.6" y="119.5" font-size="7.2" font-weight="normal" text-anchor="start" textLength="7.2" lengthAdjust="spacingAndGlyphs" stroke="#1a1a1a" stroke-width="0.25">D3</text>
<circle cx="335.6" cy="148" r="3.15" fill="#fff" stroke="#1a1a1a" stroke-width="1.3"/>
<line x1="332.0" y1="151.9" x2="339.20000000000005" y2="144.1" stroke="#1a1a1a" stroke-width="1.1"/>
<text x="323.6" y="146.2" font-size="6.4" font-weight="bold" text-anchor="start" stroke="#1a1a1a" stroke-width="0.22">N</text>
<circle cx="335.6" cy="168.7" r="3.15" fill="#fff" stroke="#1a1a1a" stroke-width="1.3"/>
<line x1="332.0" y1="172.6" x2="339.20000000000005" y2="164.79999999999998" stroke="#1a1a1a" stroke-width="1.1"/>
<text x="323.6" y="166.89999999999998" font-size="6.4" font-weight="bold" text-anchor="start" stroke="#1a1a1a" stroke-width="0.22">11</text>
<circle cx="335.6" cy="195.8" r="3.15" fill="#fff" stroke="#1a1a1a" stroke-width="1.3"/>
<line x1="332.0" y1="199.70000000000002" x2="339.20000000000005" y2="191.9" stroke="#1a1a1a" stroke-width="1.1"/>
<text x="323.6" y="194.0" font-size="6.4" font-weight="bold" text-anchor="start" stroke="#1a1a1a" stroke-width="0.22">4</text>
<circle cx="335.6" cy="216.3" r="3.15" fill="#fff" stroke="#1a1a1a" stroke-width="1.3"/>
<line x1="332.0" y1="220.20000000000002" x2="339.20000000000005" y2="212.4" stroke="#1a1a1a" stroke-width="1.1"/>
<text x="323.6" y="214.5" font-size="6.4" font-weight="bold" text-anchor="start" stroke="#1a1a1a" stroke-width="0.22">9</text>
<circle cx="335.6" cy="229.85" r="3.15" fill="#fff" stroke="#1a1a1a" stroke-width="1.3"/>
<line x1="332.0" y1="233.75" x2="339.20000000000005" y2="225.95" stroke="#1a1a1a" stroke-width="1.1"/>
<text x="323.6" y="228.04999999999998" font-size="6.4" font-weight="bold" text-anchor="start" stroke="#1a1a1a" stroke-width="0.22">13</text>
<circle cx="335.6" cy="243.6" r="3.15" fill="#fff" stroke="#1a1a1a" stroke-width="1.3"/>
<line x1="332.0" y1="247.5" x2="339.20000000000005" y2="239.7" stroke="#1a1a1a" stroke-width="1.1"/>
<text x="323.6" y="241.79999999999998" font-size="6.4" font-weight="bold" text-anchor="start" stroke="#1a1a1a" stroke-width="0.22">15</text>
<circle cx="335.6" cy="263.8" r="3.15" fill="#fff" stroke="#1a1a1a" stroke-width="1.3"/>
<line x1="332.0" y1="267.7" x2="339.20000000000005" y2="259.90000000000003" stroke="#1a1a1a" stroke-width="1.1"/>
<text x="323.6" y="262.0" font-size="6.4" font-weight="bold" text-anchor="start" stroke="#1a1a1a" stroke-width="0.22">8</text>
<circle cx="335.6" cy="311.75" r="3.15" fill="#fff" stroke="#1a1a1a" stroke-width="1.3"/>
<line x1="332.0" y1="315.65" x2="339.20000000000005" y2="307.85" stroke="#1a1a1a" stroke-width="1.1"/>
<text x="323.6" y="309.95" font-size="6.4" font-weight="bold" text-anchor="start" stroke="#1a1a1a" stroke-width="0.22">10</text>
<circle cx="335.6" cy="332" r="3.15" fill="#fff" stroke="#1a1a1a" stroke-width="1.3"/>
<line x1="332.0" y1="335.9" x2="339.20000000000005" y2="328.1" stroke="#1a1a1a" stroke-width="1.1"/>
<text x="323.6" y="330.2" font-size="6.4" font-weight="bold" text-anchor="start" stroke="#1a1a1a" stroke-width="0.22">12</text>
<circle cx="335.6" cy="352.5" r="3.15" fill="#fff" stroke="#1a1a1a" stroke-width="1.3"/>
<line x1="332.0" y1="356.4" x2="339.20000000000005" y2="348.6" stroke="#1a1a1a" stroke-width="1.1"/>
<text x="323.6" y="350.7" font-size="6.4" font-weight="bold" text-anchor="start" stroke="#1a1a1a" stroke-width="0.22">14</text>
<circle cx="335.6" cy="373" r="3.15" fill="#fff" stroke="#1a1a1a" stroke-width="1.3"/>
<line x1="332.0" y1="376.9" x2="339.20000000000005" y2="369.1" stroke="#1a1a1a" stroke-width="1.1"/>
<text x="323.6" y="371.2" font-size="6.4" font-weight="bold" text-anchor="start" stroke="#1a1a1a" stroke-width="0.22">16</text>
<circle cx="335.6" cy="426.6" r="3.15" fill="#fff" stroke="#1a1a1a" stroke-width="1.3"/>
<line x1="332.0" y1="430.5" x2="339.20000000000005" y2="422.70000000000005" stroke="#1a1a1a" stroke-width="1.1"/>
<text x="323.6" y="424.8" font-size="6.4" font-weight="bold" text-anchor="start" stroke="#1a1a1a" stroke-width="0.22">20</text>
<circle cx="335.6" cy="438.6" r="3.15" fill="#fff" stroke="#1a1a1a" stroke-width="1.3"/>
<line x1="332.0" y1="442.5" x2="339.20000000000005" y2="434.70000000000005" stroke="#1a1a1a" stroke-width="1.1"/>
<text x="323.6" y="436.8" font-size="6.4" font-weight="bold" text-anchor="start" stroke="#1a1a1a" stroke-width="0.22">19</text>
<circle cx="335.6" cy="457.2" r="3.15" fill="#fff" stroke="#1a1a1a" stroke-width="1.3"/>
<line x1="332.0" y1="461.09999999999997" x2="339.20000000000005" y2="453.3" stroke="#1a1a1a" stroke-width="1.1"/>
<text x="323.6" y="455.4" font-size="6.4" font-weight="bold" text-anchor="start" stroke="#1a1a1a" stroke-width="0.22">31</text>
<circle cx="335.6" cy="471.4" r="3.15" fill="#fff" stroke="#1a1a1a" stroke-width="1.3"/>
<line x1="332.0" y1="475.29999999999995" x2="339.20000000000005" y2="467.5" stroke="#1a1a1a" stroke-width="1.1"/>
<text x="323.6" y="469.59999999999997" font-size="6.4" font-weight="bold" text-anchor="start" stroke="#1a1a1a" stroke-width="0.22">32</text>
<circle cx="335.6" cy="491" r="3.15" fill="#fff" stroke="#1a1a1a" stroke-width="1.3"/>
<line x1="332.0" y1="494.9" x2="339.20000000000005" y2="487.1" stroke="#1a1a1a" stroke-width="1.1"/>
<text x="323.6" y="489.2" font-size="6.4" font-weight="bold" text-anchor="start" stroke="#1a1a1a" stroke-width="0.22">33</text>
<line x1="499.5" y1="53" x2="499.5" y2="80" stroke="#1a1a1a" stroke-width="1.2"/>
<line x1="499.5" y1="80" x2="778" y2="80" stroke="#1a1a1a" stroke-width="1.2"/>
<line x1="533" y1="53" x2="533" y2="80" stroke="#1a1a1a" stroke-width="1.2"/>
<line x1="648.75" y1="53" x2="648.75" y2="80" stroke="#1a1a1a" stroke-width="1.2"/>
<line x1="675.75" y1="53" x2="675.75" y2="80" stroke="#1a1a1a" stroke-width="1.2"/>
<line x1="675.75" y1="66.25" x2="778" y2="66.25" stroke="#1a1a1a" stroke-width="1.2"/>
<text x="516.3" y="69.6" font-size="9.4" font-weight="normal" text-anchor="middle" textLength="28" lengthAdjust="spacingAndGlyphs">合同号</text>
<text x="662.3" y="69.6" font-size="9.4" font-weight="normal" text-anchor="middle" textLength="18.6" lengthAdjust="spacingAndGlyphs">图号</text>
<text x="724" y="62.7" font-size="9.4" font-weight="bold" text-anchor="middle">B3AN2J-VOT</text>
<text x="472.5" y="98.3" font-size="8" font-weight="bold" text-anchor="start">说明：</text>
<text x="472" y="111.8" font-size="8" font-weight="bold" text-anchor="start" textLength="137" lengthAdjust="spacingAndGlyphs">1、本图表示电动阀门处于中间位置。</text>
<text x="472" y="124.5" font-size="8" font-weight="bold" text-anchor="start">2、</text>
<circle cx="488.8" cy="121.6" r="3.3" fill="none" stroke="#1a1a1a" stroke-width="1.2"/>
<line x1="484.7" y1="125.9" x2="493.2" y2="117.2" stroke="#1a1a1a" stroke-width="1.1"/>
<text x="494.5" y="124.5" font-size="8" font-weight="bold" text-anchor="start" textLength="64" lengthAdjust="spacingAndGlyphs">：用户接线端子。</text>
<text x="472" y="143.3" font-size="8" font-weight="bold" text-anchor="start">表一</text>
<text x="472.5" y="153.8" font-size="8.4" font-weight="bold" text-anchor="start" textLength="188" lengthAdjust="spacingAndGlyphs">(1)普通型端子接线对照表(带现场及输出无源接点)</text>
<path d="M462.3,151 L466.2,156.8 L471.2,148.3" fill="none" stroke="#3a3596" stroke-width="1.3"/>
<text x="472" y="207.5" font-size="8.4" font-weight="bold" text-anchor="start" textLength="188" lengthAdjust="spacingAndGlyphs">(2)防爆型端子接线对照表(带现场及输出无源接点)</text>
<rect x="471.75" y="161.75" width="299.0" height="27.5" fill="none" stroke="#1a1a1a" stroke-width="1.1"/>
<line x1="471.75" y1="175.5" x2="770.75" y2="175.5" stroke="#1a1a1a" stroke-width="1.2"/>
<line x1="498.75" y1="161.75" x2="498.75" y2="189.25" stroke="#1a1a1a" stroke-width="1.2"/>
<line x1="512.35" y1="161.75" x2="512.35" y2="189.25" stroke="#1a1a1a" stroke-width="1.2"/>
<line x1="525.95" y1="161.75" x2="525.95" y2="189.25" stroke="#1a1a1a" stroke-width="1.2"/>
<line x1="539.55" y1="161.75" x2="539.55" y2="189.25" stroke="#1a1a1a" stroke-width="1.2"/>
<line x1="553.15" y1="161.75" x2="553.15" y2="189.25" stroke="#1a1a1a" stroke-width="1.2"/>
<line x1="566.75" y1="161.75" x2="566.75" y2="189.25" stroke="#1a1a1a" stroke-width="1.2"/>
<line x1="580.35" y1="161.75" x2="580.35" y2="189.25" stroke="#1a1a1a" stroke-width="1.2"/>
<line x1="593.95" y1="161.75" x2="593.95" y2="189.25" stroke="#1a1a1a" stroke-width="1.2"/>
<line x1="607.55" y1="161.75" x2="607.55" y2="189.25" stroke="#1a1a1a" stroke-width="1.2"/>
<line x1="621.15" y1="161.75" x2="621.15" y2="189.25" stroke="#1a1a1a" stroke-width="1.2"/>
<line x1="634.75" y1="161.75" x2="634.75" y2="189.25" stroke="#1a1a1a" stroke-width="1.2"/>
<line x1="648.35" y1="161.75" x2="648.35" y2="189.25" stroke="#1a1a1a" stroke-width="1.2"/>
<line x1="661.95" y1="161.75" x2="661.95" y2="189.25" stroke="#1a1a1a" stroke-width="1.2"/>
<line x1="675.55" y1="161.75" x2="675.55" y2="189.25" stroke="#1a1a1a" stroke-width="1.2"/>
<line x1="689.15" y1="161.75" x2="689.15" y2="189.25" stroke="#1a1a1a" stroke-width="1.2"/>
<line x1="702.75" y1="161.75" x2="702.75" y2="189.25" stroke="#1a1a1a" stroke-width="1.2"/>
<line x1="716.35" y1="161.75" x2="716.35" y2="189.25" stroke="#1a1a1a" stroke-width="1.2"/>
<line x1="729.95" y1="161.75" x2="729.95" y2="189.25" stroke="#1a1a1a" stroke-width="1.2"/>
<line x1="743.55" y1="161.75" x2="743.55" y2="189.25" stroke="#1a1a1a" stroke-width="1.2"/>
<line x1="757.15" y1="161.75" x2="757.15" y2="189.25" stroke="#1a1a1a" stroke-width="1.2"/>
<text x="485.25" y="171.35" font-size="6.4" font-weight="bold" text-anchor="middle" textLength="19.5" lengthAdjust="spacingAndGlyphs">端子号</text>
<text x="485.25" y="184.7" font-size="5.6" font-weight="bold" text-anchor="middle" textLength="23" lengthAdjust="spacingAndGlyphs">电路图号</text>
<text x="505.55" y="172.45" font-size="10.6" font-weight="normal" text-anchor="middle" textLength="4.5" lengthAdjust="spacingAndGlyphs" stroke="#1a1a1a" stroke-width="0.15">1</text>
<text x="519.15" y="172.45" font-size="10.6" font-weight="normal" text-anchor="middle" textLength="4.5" lengthAdjust="spacingAndGlyphs" stroke="#1a1a1a" stroke-width="0.15">2</text>
<text x="532.75" y="172.45" font-size="10.6" font-weight="normal" text-anchor="middle" textLength="4.5" lengthAdjust="spacingAndGlyphs" stroke="#1a1a1a" stroke-width="0.15">3</text>
<text x="546.3499999999999" y="172.45" font-size="10.6" font-weight="normal" text-anchor="middle" textLength="4.5" lengthAdjust="spacingAndGlyphs" stroke="#1a1a1a" stroke-width="0.15">4</text>
<text x="559.9499999999999" y="172.45" font-size="10.6" font-weight="normal" text-anchor="middle" textLength="4.5" lengthAdjust="spacingAndGlyphs" stroke="#1a1a1a" stroke-width="0.15">5</text>
<text x="573.55" y="172.45" font-size="10.6" font-weight="normal" text-anchor="middle" textLength="4.5" lengthAdjust="spacingAndGlyphs" stroke="#1a1a1a" stroke-width="0.15">6</text>
<text x="587.15" y="172.45" font-size="10.6" font-weight="normal" text-anchor="middle" textLength="4.5" lengthAdjust="spacingAndGlyphs" stroke="#1a1a1a" stroke-width="0.15">7</text>
<text x="600.75" y="172.45" font-size="10.6" font-weight="normal" text-anchor="middle" textLength="4.5" lengthAdjust="spacingAndGlyphs" stroke="#1a1a1a" stroke-width="0.15">8</text>
<text x="614.3499999999999" y="172.45" font-size="10.6" font-weight="normal" text-anchor="middle" textLength="4.5" lengthAdjust="spacingAndGlyphs" stroke="#1a1a1a" stroke-width="0.15">9</text>
<text x="627.9499999999999" y="172.45" font-size="10.6" font-weight="normal" text-anchor="middle" textLength="8.9" lengthAdjust="spacingAndGlyphs" stroke="#1a1a1a" stroke-width="0.15">10</text>
<text x="641.55" y="172.45" font-size="10.6" font-weight="normal" text-anchor="middle" textLength="8.9" lengthAdjust="spacingAndGlyphs" stroke="#1a1a1a" stroke-width="0.15">11</text>
<text x="655.15" y="172.45" font-size="10.6" font-weight="normal" text-anchor="middle" textLength="8.9" lengthAdjust="spacingAndGlyphs" stroke="#1a1a1a" stroke-width="0.15">12</text>
<text x="668.75" y="172.45" font-size="10.6" font-weight="normal" text-anchor="middle" textLength="8.9" lengthAdjust="spacingAndGlyphs" stroke="#1a1a1a" stroke-width="0.15">13</text>
<text x="682.3499999999999" y="172.45" font-size="10.6" font-weight="normal" text-anchor="middle" textLength="8.9" lengthAdjust="spacingAndGlyphs" stroke="#1a1a1a" stroke-width="0.15">14</text>
<text x="695.9499999999999" y="172.45" font-size="10.6" font-weight="normal" text-anchor="middle" textLength="8.9" lengthAdjust="spacingAndGlyphs" stroke="#1a1a1a" stroke-width="0.15">15</text>
<text x="709.55" y="172.45" font-size="10.6" font-weight="normal" text-anchor="middle" textLength="8.9" lengthAdjust="spacingAndGlyphs" stroke="#1a1a1a" stroke-width="0.15">16</text>
<text x="723.15" y="172.45" font-size="10.6" font-weight="normal" text-anchor="middle" textLength="8.9" lengthAdjust="spacingAndGlyphs" stroke="#1a1a1a" stroke-width="0.15">17</text>
<text x="736.75" y="172.45" font-size="10.6" font-weight="normal" text-anchor="middle" textLength="8.9" lengthAdjust="spacingAndGlyphs" stroke="#1a1a1a" stroke-width="0.15">18</text>
<text x="750.3499999999999" y="172.45" font-size="10.6" font-weight="normal" text-anchor="middle" textLength="8.9" lengthAdjust="spacingAndGlyphs" stroke="#1a1a1a" stroke-width="0.15">19</text>
<text x="763.9499999999999" y="172.45" font-size="10.6" font-weight="normal" text-anchor="middle" textLength="8.9" lengthAdjust="spacingAndGlyphs" stroke="#1a1a1a" stroke-width="0.15">20</text>
<text x="505.55" y="186.2" font-size="10.6" font-weight="normal" text-anchor="middle" textLength="10.9" lengthAdjust="spacingAndGlyphs" stroke="#1a1a1a" stroke-width="0.15">D1</text>
<text x="519.15" y="186.2" font-size="10.6" font-weight="normal" text-anchor="middle" textLength="10.9" lengthAdjust="spacingAndGlyphs" stroke="#1a1a1a" stroke-width="0.15">D2</text>
<text x="532.75" y="186.2" font-size="10.6" font-weight="normal" text-anchor="middle" textLength="10.9" lengthAdjust="spacingAndGlyphs" stroke="#1a1a1a" stroke-width="0.15">D3</text>
<text x="546.3499999999999" y="186.2" font-size="10.6" font-weight="normal" text-anchor="middle" textLength="6.4" lengthAdjust="spacingAndGlyphs" stroke="#1a1a1a" stroke-width="0.15">N</text>
<text x="559.9499999999999" y="186.2" font-size="10.6" font-weight="normal" text-anchor="middle" textLength="4.5" lengthAdjust="spacingAndGlyphs" stroke="#1a1a1a" stroke-width="0.15">4</text>
<text x="573.55" y="186.2" font-size="10.6" font-weight="normal" text-anchor="middle" textLength="4.5" lengthAdjust="spacingAndGlyphs" stroke="#1a1a1a" stroke-width="0.15">8</text>
<text x="587.15" y="186.2" font-size="10.6" font-weight="normal" text-anchor="middle" textLength="4.5" lengthAdjust="spacingAndGlyphs" stroke="#1a1a1a" stroke-width="0.15">9</text>
<text x="600.75" y="186.2" font-size="10.6" font-weight="normal" text-anchor="middle" textLength="8.9" lengthAdjust="spacingAndGlyphs" stroke="#1a1a1a" stroke-width="0.15">10</text>
<text x="614.3499999999999" y="186.2" font-size="10.6" font-weight="normal" text-anchor="middle" textLength="8.9" lengthAdjust="spacingAndGlyphs" stroke="#1a1a1a" stroke-width="0.15">11</text>
<text x="627.9499999999999" y="186.2" font-size="10.6" font-weight="normal" text-anchor="middle" textLength="8.9" lengthAdjust="spacingAndGlyphs" stroke="#1a1a1a" stroke-width="0.15">12</text>
<text x="641.55" y="186.2" font-size="10.6" font-weight="normal" text-anchor="middle" textLength="8.9" lengthAdjust="spacingAndGlyphs" stroke="#1a1a1a" stroke-width="0.15">13</text>
<text x="655.15" y="186.2" font-size="10.6" font-weight="normal" text-anchor="middle" textLength="8.9" lengthAdjust="spacingAndGlyphs" stroke="#1a1a1a" stroke-width="0.15">14</text>
<text x="668.75" y="186.2" font-size="10.6" font-weight="normal" text-anchor="middle" textLength="8.9" lengthAdjust="spacingAndGlyphs" stroke="#1a1a1a" stroke-width="0.15">15</text>
<text x="682.3499999999999" y="186.2" font-size="10.6" font-weight="normal" text-anchor="middle" textLength="8.9" lengthAdjust="spacingAndGlyphs" stroke="#1a1a1a" stroke-width="0.15">16</text>
<text x="695.9499999999999" y="186.2" font-size="10.6" font-weight="normal" text-anchor="middle" textLength="8.9" lengthAdjust="spacingAndGlyphs" stroke="#1a1a1a" stroke-width="0.15">19</text>
<text x="709.55" y="186.2" font-size="10.6" font-weight="normal" text-anchor="middle" textLength="8.9" lengthAdjust="spacingAndGlyphs" stroke="#1a1a1a" stroke-width="0.15">20</text>
<text x="723.15" y="186.2" font-size="10.6" font-weight="normal" text-anchor="middle" textLength="8.9" lengthAdjust="spacingAndGlyphs" stroke="#1a1a1a" stroke-width="0.15">31</text>
<text x="736.75" y="186.2" font-size="10.6" font-weight="normal" text-anchor="middle" textLength="8.9" lengthAdjust="spacingAndGlyphs" stroke="#1a1a1a" stroke-width="0.15">32</text>
<text x="750.3499999999999" y="186.2" font-size="10.6" font-weight="normal" text-anchor="middle" textLength="8.9" lengthAdjust="spacingAndGlyphs" stroke="#1a1a1a" stroke-width="0.15">33</text>
<rect x="471.75" y="216.25" width="299.0" height="27.5" fill="none" stroke="#1a1a1a" stroke-width="1.1"/>
<line x1="471.75" y1="230.0" x2="770.75" y2="230.0" stroke="#1a1a1a" stroke-width="1.2"/>
<line x1="498.75" y1="216.25" x2="498.75" y2="243.75" stroke="#1a1a1a" stroke-width="1.2"/>
<line x1="512.35" y1="216.25" x2="512.35" y2="243.75" stroke="#1a1a1a" stroke-width="1.2"/>
<line x1="525.95" y1="216.25" x2="525.95" y2="243.75" stroke="#1a1a1a" stroke-width="1.2"/>
<line x1="539.55" y1="216.25" x2="539.55" y2="243.75" stroke="#1a1a1a" stroke-width="1.2"/>
<line x1="553.15" y1="216.25" x2="553.15" y2="243.75" stroke="#1a1a1a" stroke-width="1.2"/>
<line x1="566.75" y1="216.25" x2="566.75" y2="243.75" stroke="#1a1a1a" stroke-width="1.2"/>
<line x1="580.35" y1="216.25" x2="580.35" y2="243.75" stroke="#1a1a1a" stroke-width="1.2"/>
<line x1="593.95" y1="216.25" x2="593.95" y2="243.75" stroke="#1a1a1a" stroke-width="1.2"/>
<line x1="607.55" y1="216.25" x2="607.55" y2="243.75" stroke="#1a1a1a" stroke-width="1.2"/>
<line x1="621.15" y1="216.25" x2="621.15" y2="243.75" stroke="#1a1a1a" stroke-width="1.2"/>
<line x1="634.75" y1="216.25" x2="634.75" y2="243.75" stroke="#1a1a1a" stroke-width="1.2"/>
<line x1="648.35" y1="216.25" x2="648.35" y2="243.75" stroke="#1a1a1a" stroke-width="1.2"/>
<line x1="661.95" y1="216.25" x2="661.95" y2="243.75" stroke="#1a1a1a" stroke-width="1.2"/>
<line x1="675.55" y1="216.25" x2="675.55" y2="243.75" stroke="#1a1a1a" stroke-width="1.2"/>
<line x1="689.15" y1="216.25" x2="689.15" y2="243.75" stroke="#1a1a1a" stroke-width="1.2"/>
<line x1="702.75" y1="216.25" x2="702.75" y2="243.75" stroke="#1a1a1a" stroke-width="1.2"/>
<line x1="716.35" y1="216.25" x2="716.35" y2="243.75" stroke="#1a1a1a" stroke-width="1.2"/>
<line x1="729.95" y1="216.25" x2="729.95" y2="243.75" stroke="#1a1a1a" stroke-width="1.2"/>
<line x1="743.55" y1="216.25" x2="743.55" y2="243.75" stroke="#1a1a1a" stroke-width="1.2"/>
<line x1="757.15" y1="216.25" x2="757.15" y2="243.75" stroke="#1a1a1a" stroke-width="1.2"/>
<text x="485.25" y="225.85" font-size="6.4" font-weight="bold" text-anchor="middle" textLength="19.5" lengthAdjust="spacingAndGlyphs">端子号</text>
<text x="485.25" y="239.2" font-size="5.6" font-weight="bold" text-anchor="middle" textLength="23" lengthAdjust="spacingAndGlyphs">电路图号</text>
<text x="505.55" y="226.95" font-size="10.6" font-weight="normal" text-anchor="middle" textLength="6.4" lengthAdjust="spacingAndGlyphs" stroke="#1a1a1a" stroke-width="0.15">U</text>
<text x="519.15" y="226.95" font-size="10.6" font-weight="normal" text-anchor="middle" textLength="6.4" lengthAdjust="spacingAndGlyphs" stroke="#1a1a1a" stroke-width="0.15">V</text>
<text x="532.75" y="226.95" font-size="10.6" font-weight="normal" text-anchor="middle" textLength="8.4" lengthAdjust="spacingAndGlyphs" stroke="#1a1a1a" stroke-width="0.15">W</text>
<text x="546.3499999999999" y="226.95" font-size="10.6" font-weight="normal" text-anchor="middle" textLength="5.4" lengthAdjust="spacingAndGlyphs" stroke="#1a1a1a" stroke-width="0.15">E</text>
<text x="559.9499999999999" y="226.95" font-size="10.6" font-weight="normal" text-anchor="middle" textLength="4.5" lengthAdjust="spacingAndGlyphs" stroke="#1a1a1a" stroke-width="0.15">1</text>
<text x="573.55" y="226.95" font-size="10.6" font-weight="normal" text-anchor="middle" textLength="4.5" lengthAdjust="spacingAndGlyphs" stroke="#1a1a1a" stroke-width="0.15">2</text>
<text x="587.15" y="226.95" font-size="10.6" font-weight="normal" text-anchor="middle" textLength="4.5" lengthAdjust="spacingAndGlyphs" stroke="#1a1a1a" stroke-width="0.15">3</text>
<text x="600.75" y="226.95" font-size="10.6" font-weight="normal" text-anchor="middle" textLength="4.5" lengthAdjust="spacingAndGlyphs" stroke="#1a1a1a" stroke-width="0.15">4</text>
<text x="614.3499999999999" y="226.95" font-size="10.6" font-weight="normal" text-anchor="middle" textLength="4.5" lengthAdjust="spacingAndGlyphs" stroke="#1a1a1a" stroke-width="0.15">5</text>
<text x="627.9499999999999" y="226.95" font-size="10.6" font-weight="normal" text-anchor="middle" textLength="4.5" lengthAdjust="spacingAndGlyphs" stroke="#1a1a1a" stroke-width="0.15">6</text>
<text x="641.55" y="226.95" font-size="10.6" font-weight="normal" text-anchor="middle" textLength="4.5" lengthAdjust="spacingAndGlyphs" stroke="#1a1a1a" stroke-width="0.15">7</text>
<text x="655.15" y="226.95" font-size="10.6" font-weight="normal" text-anchor="middle" textLength="4.5" lengthAdjust="spacingAndGlyphs" stroke="#1a1a1a" stroke-width="0.15">8</text>
<text x="668.75" y="226.95" font-size="10.6" font-weight="normal" text-anchor="middle" textLength="4.5" lengthAdjust="spacingAndGlyphs" stroke="#1a1a1a" stroke-width="0.15">9</text>
<text x="682.3499999999999" y="226.95" font-size="10.6" font-weight="normal" text-anchor="middle" textLength="8.9" lengthAdjust="spacingAndGlyphs" stroke="#1a1a1a" stroke-width="0.15">10</text>
<text x="695.9499999999999" y="226.95" font-size="10.6" font-weight="normal" text-anchor="middle" textLength="8.9" lengthAdjust="spacingAndGlyphs" stroke="#1a1a1a" stroke-width="0.15">11</text>
<text x="709.55" y="226.95" font-size="10.6" font-weight="normal" text-anchor="middle" textLength="8.9" lengthAdjust="spacingAndGlyphs" stroke="#1a1a1a" stroke-width="0.15">12</text>
<text x="723.15" y="226.95" font-size="10.6" font-weight="normal" text-anchor="middle" textLength="8.9" lengthAdjust="spacingAndGlyphs" stroke="#1a1a1a" stroke-width="0.15">13</text>
<text x="736.75" y="226.95" font-size="10.6" font-weight="normal" text-anchor="middle" textLength="8.9" lengthAdjust="spacingAndGlyphs" stroke="#1a1a1a" stroke-width="0.15">14</text>
<text x="750.3499999999999" y="226.95" font-size="10.6" font-weight="normal" text-anchor="middle" textLength="8.9" lengthAdjust="spacingAndGlyphs" stroke="#1a1a1a" stroke-width="0.15">15</text>
<text x="763.9499999999999" y="226.95" font-size="10.6" font-weight="normal" text-anchor="middle" textLength="8.9" lengthAdjust="spacingAndGlyphs" stroke="#1a1a1a" stroke-width="0.15">16</text>
<text x="505.55" y="240.7" font-size="10.6" font-weight="normal" text-anchor="middle" textLength="10.9" lengthAdjust="spacingAndGlyphs" stroke="#1a1a1a" stroke-width="0.15">D1</text>
<text x="519.15" y="240.7" font-size="10.6" font-weight="normal" text-anchor="middle" textLength="10.9" lengthAdjust="spacingAndGlyphs" stroke="#1a1a1a" stroke-width="0.15">D2</text>
<text x="532.75" y="240.7" font-size="10.6" font-weight="normal" text-anchor="middle" textLength="10.9" lengthAdjust="spacingAndGlyphs" stroke="#1a1a1a" stroke-width="0.15">D3</text>
<text x="546.3499999999999" y="240.7" font-size="10.6" font-weight="normal" text-anchor="middle" textLength="6.4" lengthAdjust="spacingAndGlyphs" stroke="#1a1a1a" stroke-width="0.15">N</text>
<text x="559.9499999999999" y="240.7" font-size="10.6" font-weight="normal" text-anchor="middle" textLength="4.5" lengthAdjust="spacingAndGlyphs" stroke="#1a1a1a" stroke-width="0.15">4</text>
<text x="573.55" y="240.7" font-size="10.6" font-weight="normal" text-anchor="middle" textLength="4.5" lengthAdjust="spacingAndGlyphs" stroke="#1a1a1a" stroke-width="0.15">8</text>
<text x="587.15" y="240.7" font-size="10.6" font-weight="normal" text-anchor="middle" textLength="4.5" lengthAdjust="spacingAndGlyphs" stroke="#1a1a1a" stroke-width="0.15">9</text>
<text x="600.75" y="240.7" font-size="10.6" font-weight="normal" text-anchor="middle" textLength="8.9" lengthAdjust="spacingAndGlyphs" stroke="#1a1a1a" stroke-width="0.15">10</text>
<text x="614.3499999999999" y="240.7" font-size="10.6" font-weight="normal" text-anchor="middle" textLength="8.9" lengthAdjust="spacingAndGlyphs" stroke="#1a1a1a" stroke-width="0.15">11</text>
<text x="627.9499999999999" y="240.7" font-size="10.6" font-weight="normal" text-anchor="middle" textLength="8.9" lengthAdjust="spacingAndGlyphs" stroke="#1a1a1a" stroke-width="0.15">12</text>
<text x="641.55" y="240.7" font-size="10.6" font-weight="normal" text-anchor="middle" textLength="8.9" lengthAdjust="spacingAndGlyphs" stroke="#1a1a1a" stroke-width="0.15">13</text>
<text x="655.15" y="240.7" font-size="10.6" font-weight="normal" text-anchor="middle" textLength="8.9" lengthAdjust="spacingAndGlyphs" stroke="#1a1a1a" stroke-width="0.15">14</text>
<text x="668.75" y="240.7" font-size="10.6" font-weight="normal" text-anchor="middle" textLength="8.9" lengthAdjust="spacingAndGlyphs" stroke="#1a1a1a" stroke-width="0.15">15</text>
<text x="682.3499999999999" y="240.7" font-size="10.6" font-weight="normal" text-anchor="middle" textLength="8.9" lengthAdjust="spacingAndGlyphs" stroke="#1a1a1a" stroke-width="0.15">16</text>
<text x="695.9499999999999" y="240.7" font-size="10.6" font-weight="normal" text-anchor="middle" textLength="8.9" lengthAdjust="spacingAndGlyphs" stroke="#1a1a1a" stroke-width="0.15">19</text>
<text x="709.55" y="240.7" font-size="10.6" font-weight="normal" text-anchor="middle" textLength="8.9" lengthAdjust="spacingAndGlyphs" stroke="#1a1a1a" stroke-width="0.15">20</text>
<text x="723.15" y="240.7" font-size="10.6" font-weight="normal" text-anchor="middle" textLength="8.9" lengthAdjust="spacingAndGlyphs" stroke="#1a1a1a" stroke-width="0.15">31</text>
<text x="736.75" y="240.7" font-size="10.6" font-weight="normal" text-anchor="middle" textLength="8.9" lengthAdjust="spacingAndGlyphs" stroke="#1a1a1a" stroke-width="0.15">32</text>
<text x="750.3499999999999" y="240.7" font-size="10.6" font-weight="normal" text-anchor="middle" textLength="8.9" lengthAdjust="spacingAndGlyphs" stroke="#1a1a1a" stroke-width="0.15">33</text>
<text x="498.75" y="264" font-size="8" font-weight="bold" text-anchor="start">表二</text>
<rect x="499.25" y="270.5" width="278.75" height="221.3" fill="none" stroke="#1a1a1a" stroke-width="1.1"/>
<line x1="499.25" y1="284.25" x2="778" y2="284.25" stroke="#1a1a1a" stroke-width="1.2"/>
<line x1="499.25" y1="294.46666666666664" x2="778" y2="294.46666666666664" stroke="#1a1a1a" stroke-width="1.2"/>
<line x1="499.25" y1="304.68333333333334" x2="778" y2="304.68333333333334" stroke="#1a1a1a" stroke-width="1.2"/>
<line x1="499.25" y1="314.9" x2="778" y2="314.9" stroke="#1a1a1a" stroke-width="1.2"/>
<line x1="499.25" y1="325.1166666666667" x2="778" y2="325.1166666666667" stroke="#1a1a1a" stroke-width="1.2"/>
<line x1="499.25" y1="335.3333333333333" x2="778" y2="335.3333333333333" stroke="#1a1a1a" stroke-width="1.2"/>
<line x1="499.25" y1="345.55" x2="778" y2="345.55" stroke="#1a1a1a" stroke-width="1.2"/>
<line x1="499.25" y1="355.76666666666665" x2="778" y2="355.76666666666665" stroke="#1a1a1a" stroke-width="1.2"/>
<line x1="499.25" y1="365.98333333333335" x2="778" y2="365.98333333333335" stroke="#1a1a1a" stroke-width="1.2"/>
<line x1="499.25" y1="376.2" x2="778" y2="376.2" stroke="#1a1a1a" stroke-width="1.2"/>
<line x1="499.25" y1="386.4166666666667" x2="778" y2="386.4166666666667" stroke="#1a1a1a" stroke-width="1.2"/>
<line x1="499.25" y1="396.6333333333333" x2="778" y2="396.6333333333333" stroke="#1a1a1a" stroke-width="1.2"/>
<line x1="499.25" y1="406.85" x2="778" y2="406.85" stroke="#1a1a1a" stroke-width="1.2"/>
<line x1="499.25" y1="417.06666666666666" x2="778" y2="417.06666666666666" stroke="#1a1a1a" stroke-width="1.2"/>
<line x1="499.25" y1="427.2833333333333" x2="778" y2="427.2833333333333" stroke="#1a1a1a" stroke-width="1.2"/>
<line x1="499.25" y1="437.5" x2="778" y2="437.5" stroke="#1a1a1a" stroke-width="1.2"/>
<line x1="499.25" y1="447.5" x2="778" y2="447.5" stroke="#1a1a1a" stroke-width="1.2"/>
<line x1="499.25" y1="460.75" x2="778" y2="460.75" stroke="#1a1a1a" stroke-width="1.2"/>
<line x1="519.5" y1="284.25" x2="519.5" y2="447.5" stroke="#1a1a1a" stroke-width="1.2"/>
<line x1="546.75" y1="284.25" x2="546.75" y2="447.5" stroke="#1a1a1a" stroke-width="1.2"/>
<line x1="655" y1="284.25" x2="655" y2="447.5" stroke="#1a1a1a" stroke-width="1.2"/>
<line x1="682" y1="284.25" x2="682" y2="447.5" stroke="#1a1a1a" stroke-width="1.2"/>
<line x1="635" y1="284.25" x2="635" y2="460.75" stroke="#1a1a1a" stroke-width="1.2"/>
<line x1="526.75" y1="460.75" x2="526.75" y2="491.8" stroke="#1a1a1a" stroke-width="1.2"/>
<text x="604.5" y="282" font-size="11" font-weight="normal" text-anchor="middle">元</text>
<text x="636" y="282" font-size="11" font-weight="normal" text-anchor="middle">件</text>
<text x="663.5" y="282" font-size="11" font-weight="normal" text-anchor="middle">表</text>
<text x="508.875" y="291.85" font-size="6.3" font-weight="bold" text-anchor="middle" stroke="#1a1a1a" stroke-width="0.22">15</text>
<text x="644.5" y="291.85" font-size="6.3" font-weight="bold" text-anchor="middle" stroke="#1a1a1a" stroke-width="0.22">15</text>
<text x="508.875" y="302.06666666666666" font-size="6.3" font-weight="bold" text-anchor="middle" stroke="#1a1a1a" stroke-width="0.22">14</text>
<text x="644.5" y="302.06666666666666" font-size="6.3" font-weight="bold" text-anchor="middle" stroke="#1a1a1a" stroke-width="0.22">14</text>
<text x="508.875" y="312.28333333333336" font-size="6.3" font-weight="bold" text-anchor="middle" stroke="#1a1a1a" stroke-width="0.22">13</text>
<text x="644.5" y="312.28333333333336" font-size="6.3" font-weight="bold" text-anchor="middle" stroke="#1a1a1a" stroke-width="0.22">13</text>
<text x="508.875" y="322.5" font-size="6.3" font-weight="bold" text-anchor="middle" stroke="#1a1a1a" stroke-width="0.22">12</text>
<text x="644.5" y="322.5" font-size="6.3" font-weight="bold" text-anchor="middle" stroke="#1a1a1a" stroke-width="0.22">12</text>
<text x="668.5" y="322.5" font-size="6" font-weight="bold" text-anchor="middle" stroke="#1a1a1a" stroke-width="0.22">TH</text>
<text x="691.2" y="322.7" font-size="6.9" font-weight="bold" text-anchor="start" textLength="41.4" lengthAdjust="spacingAndGlyphs">热保护继电器</text>
<text x="508.875" y="332.7166666666667" font-size="6.3" font-weight="bold" text-anchor="middle" stroke="#1a1a1a" stroke-width="0.22">11</text>
<text x="644.5" y="332.7166666666667" font-size="6.3" font-weight="bold" text-anchor="middle" stroke="#1a1a1a" stroke-width="0.22">11</text>
<text x="668.5" y="332.7166666666667" font-size="6" font-weight="bold" text-anchor="middle" textLength="25.5" lengthAdjust="spacingAndGlyphs" stroke="#1a1a1a" stroke-width="0.3">KO、KC</text>
<text x="691.2" y="332.9166666666667" font-size="6.9" font-weight="bold" text-anchor="start" textLength="55.2" lengthAdjust="spacingAndGlyphs">开向、关向接触器</text>
<text x="508.875" y="342.93333333333334" font-size="6.3" font-weight="bold" text-anchor="middle" stroke="#1a1a1a" stroke-width="0.22">10</text>
<text x="644.5" y="342.93333333333334" font-size="6.3" font-weight="bold" text-anchor="middle" stroke="#1a1a1a" stroke-width="0.22">10</text>
<text x="668.5" y="342.93333333333334" font-size="6" font-weight="bold" text-anchor="middle" stroke="#1a1a1a" stroke-width="0.22">B</text>
<text x="691.2" y="343.1333333333333" font-size="6.9" font-weight="bold" text-anchor="start" textLength="34.5" lengthAdjust="spacingAndGlyphs">电源变压器</text>
<text x="508.875" y="353.15000000000003" font-size="6.3" font-weight="bold" text-anchor="middle" stroke="#1a1a1a" stroke-width="0.22">9</text>
<text x="644.5" y="353.15000000000003" font-size="6.3" font-weight="bold" text-anchor="middle" stroke="#1a1a1a" stroke-width="0.22">9</text>
<text x="668.5" y="353.15000000000003" font-size="6" font-weight="bold" text-anchor="middle" stroke="#1a1a1a" stroke-width="0.22">HY</text>
<text x="691.2" y="353.35" font-size="6.9" font-weight="bold" text-anchor="start" textLength="55.2" lengthAdjust="spacingAndGlyphs">阀门过力矩指示灯</text>
<text x="508.875" y="363.3666666666667" font-size="6.3" font-weight="bold" text-anchor="middle" stroke="#1a1a1a" stroke-width="0.22">8</text>
<text x="644.5" y="363.3666666666667" font-size="6.3" font-weight="bold" text-anchor="middle" stroke="#1a1a1a" stroke-width="0.22">8</text>
<text x="533.125" y="363.3666666666667" font-size="6" font-weight="bold" text-anchor="middle" stroke="#1a1a1a" stroke-width="0.22">VOT-4</text>
<text x="554.5" y="362.9666666666667" font-size="5.2" font-weight="bold" text-anchor="start" textLength="53.0" lengthAdjust="spacingAndGlyphs">4线制阀位电流发生器</text>
<text x="668.5" y="363.3666666666667" font-size="6" font-weight="bold" text-anchor="middle" stroke="#1a1a1a" stroke-width="0.22">HG</text>
<text x="691.2" y="363.56666666666666" font-size="6.9" font-weight="bold" text-anchor="start" textLength="55.2" lengthAdjust="spacingAndGlyphs">阀门关到位指示灯</text>
<text x="508.875" y="373.58333333333337" font-size="6.3" font-weight="bold" text-anchor="middle" stroke="#1a1a1a" stroke-width="0.22">7</text>
<text x="644.5" y="373.58333333333337" font-size="6.3" font-weight="bold" text-anchor="middle" stroke="#1a1a1a" stroke-width="0.22">7</text>
<text x="535.625" y="373.58333333333337" font-size="6" font-weight="bold" text-anchor="middle" stroke="#1a1a1a" stroke-width="0.22">SBC</text>
<text x="554.5" y="373.78333333333336" font-size="6.9" font-weight="bold" text-anchor="start" textLength="27.6" lengthAdjust="spacingAndGlyphs">现场关阀</text>
<text x="668.5" y="373.58333333333337" font-size="6" font-weight="bold" text-anchor="middle" stroke="#1a1a1a" stroke-width="0.22">HR</text>
<text x="691.2" y="373.78333333333336" font-size="6.9" font-weight="bold" text-anchor="start" textLength="55.2" lengthAdjust="spacingAndGlyphs">阀门开到位指示灯</text>
<text x="508.875" y="383.8" font-size="6.3" font-weight="bold" text-anchor="middle" stroke="#1a1a1a" stroke-width="0.22">6</text>
<text x="644.5" y="383.8" font-size="6.3" font-weight="bold" text-anchor="middle" stroke="#1a1a1a" stroke-width="0.22">6</text>
<text x="535.625" y="383.8" font-size="6" font-weight="bold" text-anchor="middle" stroke="#1a1a1a" stroke-width="0.22">SBO</text>
<text x="554.5" y="384.0" font-size="6.9" font-weight="bold" text-anchor="start" textLength="27.6" lengthAdjust="spacingAndGlyphs">现场开阀</text>
<text x="668.5" y="383.8" font-size="6" font-weight="bold" text-anchor="middle" stroke="#1a1a1a" stroke-width="0.22">HW</text>
<text x="691.2" y="384.0" font-size="6.9" font-weight="bold" text-anchor="start" textLength="34.5" lengthAdjust="spacingAndGlyphs">电源指示灯</text>
<text x="508.875" y="394.0166666666667" font-size="6.3" font-weight="bold" text-anchor="middle" stroke="#1a1a1a" stroke-width="0.22">5</text>
<text x="644.5" y="394.0166666666667" font-size="6.3" font-weight="bold" text-anchor="middle" stroke="#1a1a1a" stroke-width="0.22">5</text>
<text x="533.125" y="394.0166666666667" font-size="6" font-weight="bold" text-anchor="middle" stroke="#1a1a1a" stroke-width="0.22">RP1</text>
<text x="554.5" y="394.2166666666667" font-size="6.9" font-weight="bold" text-anchor="start" textLength="48.3" lengthAdjust="spacingAndGlyphs">位置反馈电位器</text>
<text x="668.5" y="394.0166666666667" font-size="6" font-weight="bold" text-anchor="middle" stroke="#1a1a1a" stroke-width="0.22">SSE</text>
<text x="691.2" y="394.2166666666667" font-size="6.9" font-weight="bold" text-anchor="start" textLength="62.1" lengthAdjust="spacingAndGlyphs">现场/远控转换按钮</text>
<text x="508.875" y="404.23333333333335" font-size="6.3" font-weight="bold" text-anchor="middle" stroke="#1a1a1a" stroke-width="0.22">4</text>
<text x="644.5" y="404.23333333333335" font-size="6.3" font-weight="bold" text-anchor="middle" stroke="#1a1a1a" stroke-width="0.22">4</text>
<text x="533.125" y="404.23333333333335" font-size="6" font-weight="bold" text-anchor="middle" textLength="26.6" lengthAdjust="spacingAndGlyphs" stroke="#1a1a1a" stroke-width="0.22">STO-STC</text>
<text x="554.5" y="404.43333333333334" font-size="6.9" font-weight="bold" text-anchor="start" textLength="69.0" lengthAdjust="spacingAndGlyphs">开、关向力矩限位开关</text>
<text x="668.5" y="404.23333333333335" font-size="6" font-weight="bold" text-anchor="middle" stroke="#1a1a1a" stroke-width="0.22">SS</text>
<text x="691.2" y="404.43333333333334" font-size="6.9" font-weight="bold" text-anchor="start" textLength="27.6" lengthAdjust="spacingAndGlyphs">停止按钮</text>
<text x="508.875" y="414.45000000000005" font-size="6.3" font-weight="bold" text-anchor="middle" stroke="#1a1a1a" stroke-width="0.22">3</text>
<text x="644.5" y="414.45000000000005" font-size="6.3" font-weight="bold" text-anchor="middle" stroke="#1a1a1a" stroke-width="0.22">3</text>
<text x="533.125" y="414.45000000000005" font-size="6" font-weight="bold" text-anchor="middle" textLength="26.6" lengthAdjust="spacingAndGlyphs" stroke="#1a1a1a" stroke-width="0.22">SL1-SL4</text>
<text x="554.5" y="414.65000000000003" font-size="6.9" font-weight="bold" text-anchor="start" textLength="69.0" lengthAdjust="spacingAndGlyphs">开、关向行程限位开关</text>
<text x="668.5" y="414.45000000000005" font-size="6" font-weight="bold" text-anchor="middle" stroke="#1a1a1a" stroke-width="0.22">SO</text>
<text x="691.2" y="414.65000000000003" font-size="6.9" font-weight="bold" text-anchor="start" textLength="41.4" lengthAdjust="spacingAndGlyphs">手动开阀按钮</text>
<text x="508.875" y="424.6666666666667" font-size="6.3" font-weight="bold" text-anchor="middle" stroke="#1a1a1a" stroke-width="0.22">2</text>
<text x="644.5" y="424.6666666666667" font-size="6.3" font-weight="bold" text-anchor="middle" stroke="#1a1a1a" stroke-width="0.22">2</text>
<text x="533.125" y="424.6666666666667" font-size="6" font-weight="bold" text-anchor="middle" stroke="#1a1a1a" stroke-width="0.22">RH</text>
<text x="554.5" y="424.8666666666667" font-size="6.9" font-weight="bold" text-anchor="start" textLength="34.5" lengthAdjust="spacingAndGlyphs">空间加热器</text>
<text x="668.5" y="424.6666666666667" font-size="6" font-weight="bold" text-anchor="middle" stroke="#1a1a1a" stroke-width="0.22">SC</text>
<text x="691.2" y="424.8666666666667" font-size="6.9" font-weight="bold" text-anchor="start" textLength="41.4" lengthAdjust="spacingAndGlyphs">手动关阀按钮</text>
<text x="508.875" y="434.8833333333333" font-size="6.3" font-weight="bold" text-anchor="middle" stroke="#1a1a1a" stroke-width="0.22">1</text>
<text x="644.5" y="434.8833333333333" font-size="6.3" font-weight="bold" text-anchor="middle" stroke="#1a1a1a" stroke-width="0.22">1</text>
<text x="533.125" y="434.8833333333333" font-size="6" font-weight="bold" text-anchor="middle" stroke="#1a1a1a" stroke-width="0.22">M</text>
<text x="554.5" y="435.0833333333333" font-size="6.9" font-weight="bold" text-anchor="start" textLength="73" lengthAdjust="spacingAndGlyphs">阀门专用电机（AC380V）</text>
<text x="668.5" y="434.8833333333333" font-size="6" font-weight="bold" text-anchor="middle" stroke="#1a1a1a" stroke-width="0.22">FU</text>
<text x="691.2" y="435.0833333333333" font-size="6.9" font-weight="bold" text-anchor="start" textLength="27.6" lengthAdjust="spacingAndGlyphs">电源保险</text>
<text x="509.375" y="445.3" font-size="6.8" font-weight="bold" text-anchor="middle">序号</text>
<text x="525.8" y="445.3" font-size="6.8" font-weight="bold" text-anchor="middle">标</text>
<text x="540" y="445.3" font-size="6.8" font-weight="bold" text-anchor="middle">号</text>
<text x="573" y="445.3" font-size="6.8" font-weight="bold" text-anchor="middle">名</text>
<text x="607" y="445.3" font-size="6.8" font-weight="bold" text-anchor="middle">称</text>
<text x="645.0" y="445.3" font-size="6.8" font-weight="bold" text-anchor="middle">序号</text>
<text x="661.5" y="445.3" font-size="6.8" font-weight="bold" text-anchor="middle">标</text>
<text x="675.5" y="445.3" font-size="6.8" font-weight="bold" text-anchor="middle">号</text>
<text x="716" y="445.3" font-size="6.8" font-weight="bold" text-anchor="middle">名</text>
<text x="752" y="445.3" font-size="6.8" font-weight="bold" text-anchor="middle">称</text>
<text x="570.5" y="457.6" font-size="7.2" font-weight="bold" text-anchor="middle" letter-spacing="0.25">在电动装置上</text>
<text x="704" y="457.6" font-size="7.2" font-weight="bold" text-anchor="middle" letter-spacing="0.25">在控制室内</text>
<text x="513" y="479.6" font-size="9.6" font-weight="normal" text-anchor="middle">备注</text>
<text x="570" y="473" font-size="6.7" font-weight="bold" text-anchor="start" textLength="133.8" lengthAdjust="spacingAndGlyphs">基本型、带现场按钮、开关到位无源输出接点</text>
<text x="576.3" y="485" font-size="6.5" font-weight="bold" text-anchor="start" textLength="121.2" lengthAdjust="spacingAndGlyphs">带阀位电流输出（4线制阀位电流发生器）</text>
<rect x="499.25" y="491.8" width="278.75" height="51.099999999999966" fill="none" stroke="#1a1a1a" stroke-width="2"/>
<line x1="519.5" y1="491.8" x2="519.5" y2="542.9" stroke="#1a1a1a" stroke-width="1.1"/>
<line x1="696.25" y1="491.8" x2="696.25" y2="542.9" stroke="#1a1a1a" stroke-width="1.1"/>
<line x1="696.25" y1="519" x2="778" y2="519" stroke="#1a1a1a" stroke-width="1.1"/>
<text x="509.5" y="509" font-size="12" font-weight="normal" text-anchor="middle">名</text>
<text x="509.5" y="533" font-size="12" font-weight="normal" text-anchor="middle">称</text>
<text x="530.8" y="520" font-size="10.4" font-weight="normal" text-anchor="start" textLength="148.8" lengthAdjust="spacingAndGlyphs">QB系列阀门电动装置电气原理图</text>
<text x="738" y="503.5" font-size="9.5" font-weight="normal" text-anchor="middle" textLength="28.4" lengthAdjust="spacingAndGlyphs">适用于</text>
<text x="739.3" y="516.2" font-size="10" font-weight="normal" text-anchor="middle" textLength="72.5" lengthAdjust="spacingAndGlyphs">(AC380V 3相4线)</text>
<text x="739.4" y="528.3" font-size="9.5" font-weight="normal" text-anchor="middle" textLength="56.8" lengthAdjust="spacingAndGlyphs">天津百利二通</text>
<text x="739.4" y="538.8" font-size="9.5" font-weight="normal" text-anchor="middle" textLength="56.8" lengthAdjust="spacingAndGlyphs">机械有限公司</text>
</svg>
</body></html>
